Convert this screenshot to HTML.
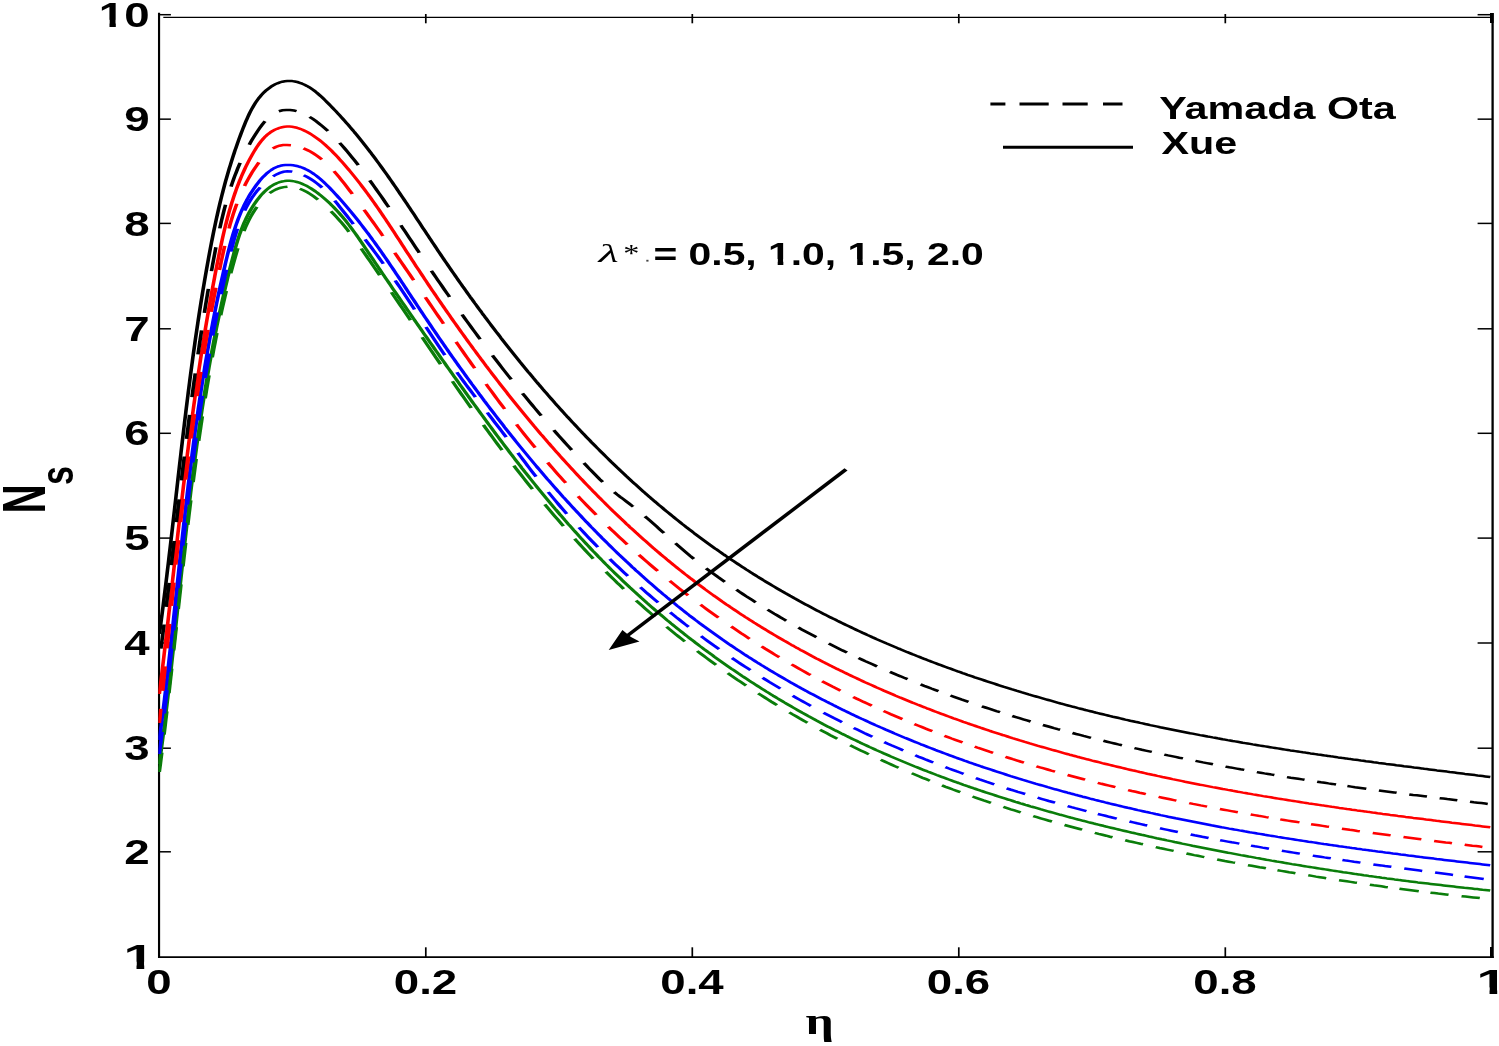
<!DOCTYPE html>
<html><head><meta charset="utf-8"><title>Ns vs eta</title>
<style>html,body{margin:0;padding:0;background:#fff}svg{display:block}</style></head>
<body>
<svg width="1499" height="1046" viewBox="0 0 1499 1046">
<rect width="1499" height="1046" fill="#fff"/>
<defs><clipPath id="pc"><rect x="158.3" y="17" width="1335.4" height="941"/></clipPath></defs>
<line x1="159.05" y1="12.7" x2="159.05" y2="957.9" stroke="#000" stroke-width="2.15"/>
<line x1="158" y1="957.1" x2="1493.8" y2="957.1" stroke="#000" stroke-width="1.7"/>
<line x1="1492.6" y1="13" x2="1492.6" y2="957.9" stroke="#000" stroke-width="2.3"/>
<line x1="163.3" y1="17.4" x2="1493" y2="17.4" stroke="#000" stroke-width="1.3"/>
<line x1="159.3" y1="851.80" x2="170.9" y2="851.80" stroke="#000" stroke-width="1.5"/>
<line x1="1477.6" y1="851.80" x2="1492.5" y2="851.80" stroke="#000" stroke-width="1.5"/>
<line x1="159.3" y1="748.20" x2="170.9" y2="748.20" stroke="#000" stroke-width="1.5"/>
<line x1="1477.6" y1="748.20" x2="1492.5" y2="748.20" stroke="#000" stroke-width="1.5"/>
<line x1="159.3" y1="643.00" x2="170.9" y2="643.00" stroke="#000" stroke-width="1.5"/>
<line x1="1477.6" y1="643.00" x2="1492.5" y2="643.00" stroke="#000" stroke-width="1.5"/>
<line x1="159.3" y1="538.10" x2="170.9" y2="538.10" stroke="#000" stroke-width="1.5"/>
<line x1="1477.6" y1="538.10" x2="1492.5" y2="538.10" stroke="#000" stroke-width="1.5"/>
<line x1="159.3" y1="433.30" x2="170.9" y2="433.30" stroke="#000" stroke-width="1.5"/>
<line x1="1477.6" y1="433.30" x2="1492.5" y2="433.30" stroke="#000" stroke-width="1.5"/>
<line x1="159.3" y1="328.80" x2="170.9" y2="328.80" stroke="#000" stroke-width="1.5"/>
<line x1="1477.6" y1="328.80" x2="1492.5" y2="328.80" stroke="#000" stroke-width="1.5"/>
<line x1="159.3" y1="223.40" x2="170.9" y2="223.40" stroke="#000" stroke-width="1.5"/>
<line x1="1477.6" y1="223.40" x2="1492.5" y2="223.40" stroke="#000" stroke-width="1.5"/>
<line x1="159.3" y1="119.15" x2="170.9" y2="119.15" stroke="#000" stroke-width="1.5"/>
<line x1="1477.6" y1="119.15" x2="1492.5" y2="119.15" stroke="#000" stroke-width="1.5"/>
<line x1="159.3" y1="14.70" x2="170.9" y2="14.70" stroke="#000" stroke-width="1.5"/>
<line x1="1477.6" y1="14.70" x2="1492.5" y2="14.70" stroke="#000" stroke-width="1.5"/>
<line x1="425.8" y1="947.3" x2="425.8" y2="957.1" stroke="#000" stroke-width="1.7"/>
<line x1="425.8" y1="14" x2="425.8" y2="23.3" stroke="#000" stroke-width="1.7"/>
<line x1="692.3" y1="947.3" x2="692.3" y2="957.1" stroke="#000" stroke-width="1.7"/>
<line x1="692.3" y1="14" x2="692.3" y2="23.3" stroke="#000" stroke-width="1.7"/>
<line x1="958.8" y1="947.3" x2="958.8" y2="957.1" stroke="#000" stroke-width="1.7"/>
<line x1="958.8" y1="14" x2="958.8" y2="23.3" stroke="#000" stroke-width="1.7"/>
<line x1="1225.3" y1="947.3" x2="1225.3" y2="957.1" stroke="#000" stroke-width="1.7"/>
<line x1="1225.3" y1="14" x2="1225.3" y2="23.3" stroke="#000" stroke-width="1.7"/>
<rect x="1490" y="13" width="3.6" height="10" fill="#000"/>
<rect x="1490" y="947" width="2.5" height="10" fill="#000"/>
<g clip-path="url(#pc)"><g transform="scale(1.45,1)">
<path fill="none" stroke="#0a7d0a" stroke-width="2.5" d="M109.86 772.0 L110.21 768.1 L110.56 764.3 L110.90 760.4 L111.25 756.5 L111.58 752.6M113.13 734.6 L113.46 730.7 L113.78 726.8 L114.10 722.9 L114.42 719.0 L114.73 715.2 L115.05 711.3M116.50 693.2 L116.80 689.3 L117.11 685.4 L117.41 681.5 L117.71 677.7 L118.01 673.8 L118.31 669.9 L118.41 668.6M119.80 650.5 L120.09 646.6 L120.38 642.7 L120.68 638.8 L120.97 634.9 L121.27 631.0 L121.56 627.2M122.93 609.0 L123.22 605.1 L123.52 601.2 L123.81 597.4 L124.11 593.5 L124.41 589.6 L124.70 585.7 L124.80 584.4M126.20 566.3 L126.50 562.4 L126.81 558.5 L127.11 554.6 L127.42 550.7 L127.73 546.9 L128.04 543.0M129.51 524.9 L129.83 521.0 L130.15 517.1 L130.47 513.2 L130.80 509.3 L131.13 505.5 L131.46 501.6 L131.57 500.3M133.16 482.2 L133.51 478.3 L133.86 474.4 L134.21 470.6 L134.57 466.7 L134.93 462.8 L135.29 459.0M137.04 440.9 L137.42 437.0 L137.81 433.2 L138.20 429.3 L138.60 425.4 L139.00 421.6 L139.40 417.7 L139.54 416.4M141.48 398.4 L141.92 394.5 L142.35 390.7 L142.79 386.8 L143.24 383.0 L143.69 379.1 L144.15 375.3M146.36 357.3 L146.85 353.5 L147.35 349.7 L147.86 345.8 L148.38 342.0 L148.90 338.1 L149.43 334.3 L149.61 333.0M152.21 315.2 L152.79 311.4 L153.38 307.6 L153.98 303.8 L154.59 300.0 L155.21 296.1 L155.84 292.3 L156.06 291.1M159.16 273.4 L159.85 269.6 L160.56 265.8 L161.28 262.1 L162.01 258.3 L162.75 254.5 L163.52 250.8 L164.05 248.3M168.23 231.1 L169.27 227.5 L170.39 223.9 L171.57 220.4 L172.84 216.9 L174.19 213.5 L175.63 210.2 L177.18 206.9M185.90 193.2 L188.15 191.1 L190.55 189.3 L193.07 188.0 L195.66 187.1 L198.27 186.7M206.76 188.8 L209.23 190.3 L211.65 192.1 L214.02 194.1 L216.33 196.4 L218.58 198.8 L219.32 199.6M228.24 211.2 L230.15 214.0 L232.00 216.8 L233.81 219.8 L235.57 222.7 L237.30 225.7 L238.99 228.7 L240.65 231.8M249.10 248.5 L250.64 251.7 L252.18 254.9 L253.71 258.1 L255.24 261.3 L256.77 264.5 L258.30 267.7 L259.82 270.9 L261.34 274.1 L261.85 275.2M269.95 292.3 L271.46 295.5 L272.97 298.7 L274.49 301.9 L276.00 305.1 L277.51 308.3 L279.02 311.6 L280.54 314.8 L282.05 318.0 L283.06 320.2M291.13 337.3 L292.65 340.6 L294.16 343.8 L295.68 347.0 L297.20 350.2 L298.72 353.4 L300.25 356.7 L301.77 359.9 L303.30 363.1 L303.81 364.2M312.00 381.3 L313.55 384.5 L315.09 387.7 L316.64 390.9 L318.19 394.1 L319.75 397.3 L321.31 400.5 L322.87 403.7 L324.44 406.9 L324.96 408.0M333.38 424.9 L334.97 428.1 L336.56 431.2 L338.16 434.4 L339.76 437.5 L341.37 440.7 L342.98 443.8 L344.60 447.0 L346.22 450.1M354.40 465.7 L356.05 468.8 L357.71 471.8 L359.37 474.9 L361.04 478.0 L362.72 481.1 L364.39 484.1 L366.08 487.2 L367.21 489.2M375.74 504.3 L377.47 507.3 L379.20 510.3 L380.94 513.3 L382.69 516.3 L384.44 519.2 L386.20 522.2 L387.97 525.1 L388.56 526.1M396.31 538.8 L398.12 541.6 L399.94 544.5 L401.76 547.4 L403.60 550.2 L405.44 553.1 L407.28 555.9 L409.14 558.7M417.91 571.7 L419.82 574.5 L421.73 577.2 L423.65 579.9 L425.58 582.7 L427.52 585.3 L429.47 588.0 L430.12 588.9M438.68 600.4 L440.67 603.0 L442.68 605.6 L444.69 608.2 L446.71 610.8 L448.74 613.3 L450.78 615.9 L451.46 616.7M459.69 626.8 L461.77 629.3 L463.86 631.7 L465.95 634.2 L468.05 636.6 L470.16 639.0 L472.28 641.5M480.82 651.0 L482.97 653.3 L485.13 655.7 L487.29 658.0 L489.47 660.3 L491.65 662.6 L493.84 664.9M501.91 673.1 L504.13 675.4 L506.36 677.6 L508.59 679.8 L510.83 681.9 L513.07 684.1 L514.57 685.5M522.87 693.3 L525.15 695.4 L527.43 697.5 L529.72 699.6 L532.01 701.7 L534.31 703.7 L535.85 705.1M544.35 712.4 L546.68 714.4 L549.02 716.3 L551.36 718.3 L553.71 720.2 L556.06 722.1 L556.84 722.8M565.52 729.7 L567.90 731.5 L570.28 733.3 L572.67 735.2 L575.06 737.0 L577.46 738.8M586.29 745.2 L588.71 747.0 L591.13 748.7 L593.56 750.4 L595.99 752.1 L598.43 753.8 L599.24 754.3M607.39 759.8 L609.85 761.4 L612.31 763.0 L614.77 764.6 L617.24 766.2 L619.71 767.7M628.80 773.3 L631.29 774.8 L633.78 776.3 L636.27 777.8 L638.77 779.2 L641.27 780.7M649.64 785.4 L652.15 786.8 L654.67 788.1 L657.19 789.5 L659.72 790.8 L662.25 792.2M670.70 796.5 L673.24 797.8 L675.78 799.1 L678.33 800.4 L680.88 801.6 L683.43 802.9M691.96 806.9 L694.53 808.1 L697.09 809.3 L699.66 810.4 L702.23 811.6 L703.95 812.4M712.55 816.1 L715.13 817.2 L717.72 818.3 L720.31 819.4 L722.90 820.5 L725.49 821.5M734.15 825.0 L736.75 826.0 L739.36 827.0 L741.96 828.0 L744.57 829.0 L746.31 829.7M755.02 832.9 L757.64 833.9 L760.25 834.8 L762.88 835.7 L765.50 836.7 L767.25 837.3M776.00 840.3 L778.63 841.2 L781.26 842.0 L783.89 842.9 L786.52 843.8 L788.28 844.3M797.07 847.1 L799.71 848.0 L802.35 848.8 L804.99 849.6 L807.63 850.4 L809.40 850.9M818.21 853.5 L820.86 854.3 L823.51 855.1 L826.16 855.8 L828.81 856.6 L830.57 857.1M839.41 859.5 L842.06 860.2 L844.71 861.0 L847.37 861.7 L850.02 862.4 L851.79 862.8M860.64 865.2 L863.29 865.8 L865.95 866.5 L868.61 867.2 L871.26 867.8 L873.03 868.3M881.00 870.3 L883.65 870.9 L886.31 871.5 L888.97 872.2 L891.62 872.8 L893.39 873.2M902.24 875.3 L904.89 875.9 L907.55 876.6 L910.20 877.2 L912.86 877.8 L914.62 878.2M923.47 880.2 L926.13 880.7 L928.78 881.3 L931.44 881.9 L934.09 882.5 L935.86 882.8M944.72 884.7 L947.38 885.3 L950.04 885.8 L952.70 886.3 L955.36 886.9 L957.14 887.2M965.13 888.8 L967.80 889.3 L970.46 889.8 L973.13 890.3 L975.80 890.8 L978.47 891.3M986.50 892.7 L989.17 893.1 L991.85 893.6 L994.53 894.0 L997.21 894.5 L999.00 894.8M1007.96 896.2 L1010.65 896.6 L1013.35 897.0 L1016.04 897.4 L1018.74 897.8 L1020.54 898.1"/>
<polyline fill="none" stroke="#0a7d0a" stroke-width="2.5" stroke-linejoin="round" points="109.86,764.0 110.11,761.4 110.35,758.9 110.59,756.3 110.83,753.7 111.07,751.2 111.31,748.6 111.54,746.0 111.78,743.4 112.01,740.9 112.24,738.3 112.47,735.7 112.70,733.2 112.92,730.6 113.15,728.0 113.37,725.4 113.59,722.9 113.81,720.3 114.03,717.7 114.25,715.1 114.47,712.5 114.68,710.0 114.90,707.4 115.11,704.8 115.32,702.2 115.53,699.6 115.74,697.1 115.95,694.5 116.16,691.9 116.37,689.3 116.58,686.7 116.78,684.2 116.99,681.6 117.19,679.0 117.39,676.4 117.59,673.8 117.80,671.2 118.00,668.7 118.20,666.1 118.40,663.5 118.59,660.9 118.79,658.3 118.99,655.7 119.19,653.1 119.38,650.6 119.58,648.0 119.77,645.4 119.97,642.8 120.16,640.2 120.36,637.6 120.55,635.0 120.74,632.4 120.94,629.9 121.13,627.3 121.32,624.7 121.51,622.1 121.70,619.5 121.90,616.9 122.09,614.3 122.28,611.7 122.47,609.1 122.66,606.6 122.85,604.0 123.05,601.4 123.24,598.8 123.43,596.2 123.62,593.6 123.81,591.0 124.00,588.4 124.20,585.8 124.39,583.2 124.58,580.7 124.77,578.1 124.97,575.5 125.16,572.9 125.35,570.3 125.55,567.7 125.74,565.1 125.94,562.5 126.13,559.9 126.33,557.3 126.52,554.8 126.72,552.2 126.92,549.6 127.12,547.0 127.32,544.4 127.52,541.8 127.72,539.2 127.92,536.6 128.12,534.1 128.32,531.5 128.52,528.9 128.73,526.3 128.93,523.7 129.14,521.1 129.35,518.5 129.55,515.9 129.76,513.4 129.97,510.8 130.18,508.2 130.39,505.6 130.61,503.0 130.82,500.4 131.04,497.8 131.25,495.3 131.47,492.7 131.69,490.1 131.91,487.5 132.13,484.9 132.35,482.3 132.58,479.8 132.80,477.2 133.03,474.6 133.26,472.0 133.49,469.4 133.72,466.9 133.95,464.3 134.18,461.7 134.42,459.1 134.66,456.5 134.90,454.0 135.14,451.4 135.38,448.8 135.62,446.2 135.87,443.7 136.12,441.1 136.37,438.5 136.62,435.9 136.87,433.4 137.13,430.8 137.38,428.2 137.64,425.7 137.90,423.1 138.16,420.5 138.43,417.9 138.70,415.4 138.97,412.8 139.24,410.2 139.51,407.7 139.79,405.1 140.06,402.5 140.34,400.0 140.63,397.4 140.91,394.9 141.20,392.3 141.49,389.7 141.78,387.2 142.07,384.6 142.37,382.0 142.67,379.5 142.97,376.9 143.27,374.4 143.58,371.8 143.89,369.3 144.20,366.7 144.52,364.1 144.83,361.6 145.15,359.0 145.48,356.5 145.80,353.9 146.13,351.4 146.46,348.8 146.80,346.3 147.13,343.7 147.47,341.2 147.82,338.6 148.16,336.1 148.51,333.5 148.86,331.0 149.22,328.4 149.58,325.9 149.94,323.4 150.30,320.8 150.67,318.3 151.04,315.7 151.42,313.2 151.80,310.6 152.18,308.1 152.56,305.6 152.95,303.0 153.34,300.5 153.74,297.9 154.14,295.4 154.54,292.9 154.95,290.3 155.36,287.8 155.77,285.2 156.19,282.7 156.61,280.2 157.03,277.6 157.46,275.1 157.89,272.6 158.33,270.0 158.77,267.5 159.22,265.0 159.66,262.4 160.12,259.9 160.57,257.4 161.03,254.9 161.50,252.3 161.98,249.8 162.47,247.3 162.98,244.8 163.50,242.3 164.03,239.8 164.59,237.3 165.16,234.8 165.76,232.4 166.38,229.9 167.03,227.5 167.70,225.1 168.40,222.7 169.14,220.3 169.91,218.0 170.71,215.6 171.55,213.3 172.42,211.0 173.34,208.7 174.30,206.5 175.30,204.3 176.35,202.1 177.45,199.9 178.59,197.8 179.79,195.7 181.03,193.7 182.33,191.8 183.68,190.0 185.08,188.3 186.53,186.7 188.04,185.3 189.60,184.1 191.21,183.0 192.85,182.2 194.53,181.5 196.22,181.1 197.93,180.8 199.63,180.8 201.33,181.0 203.03,181.4 204.72,182.0 206.39,182.7 208.06,183.6 209.70,184.7 211.34,185.8 212.95,187.1 214.54,188.5 216.11,190.0 217.65,191.5 219.16,193.2 220.64,194.8 222.09,196.5 223.51,198.2 224.90,200.0 226.26,201.8 227.59,203.6 228.89,205.4 230.17,207.3 231.42,209.2 232.65,211.1 233.86,213.0 235.04,215.0 236.21,216.9 237.35,218.9 238.48,220.9 239.59,223.0 240.69,225.0 241.77,227.1 242.83,229.1 243.89,231.2 244.93,233.3 245.97,235.4 246.99,237.5 248.01,239.6 249.02,241.8 250.02,243.9 251.02,246.0 252.02,248.2 253.02,250.3 254.01,252.5 255.01,254.6 256.00,256.8 257.00,258.9 257.99,261.0 258.99,263.2 259.99,265.3 260.99,267.5 261.99,269.6 262.99,271.7 264.00,273.9 265.00,276.0 266.00,278.2 267.01,280.3 268.02,282.4 269.02,284.6 270.03,286.7 271.04,288.9 272.05,291.0 273.06,293.1 274.07,295.3 275.08,297.4 276.10,299.5 277.11,301.7 278.12,303.8 279.14,305.9 280.16,308.1 281.17,310.2 282.19,312.3 283.21,314.5 284.23,316.6 285.25,318.7 286.27,320.9 287.29,323.0 288.31,325.1 289.34,327.3 290.36,329.4 291.38,331.5 292.41,333.7 293.44,335.8 294.46,337.9 295.49,340.0 296.52,342.2 297.55,344.3 298.58,346.4 299.61,348.6 300.64,350.7 301.67,352.8 302.70,354.9 303.73,357.1 304.77,359.2 305.80,361.3 306.84,363.4 307.87,365.6 308.91,367.7 309.95,369.8 310.98,371.9 312.02,374.0 313.06,376.2 314.10,378.3 315.14,380.4 316.18,382.5 317.22,384.7 318.27,386.8 319.31,388.9 320.36,391.0 321.40,393.1 322.45,395.2 323.50,397.4 324.55,399.5 325.60,401.6 326.65,403.7 327.71,405.8 328.76,407.9 329.82,410.0 330.87,412.1 331.93,414.2 332.99,416.3 334.05,418.4 335.12,420.5 336.18,422.6 337.25,424.7 338.32,426.8 339.38,428.9 340.46,431.0 341.53,433.1 342.60,435.2 343.68,437.3 344.76,439.4 345.84,441.4 346.92,443.5 348.00,445.6 349.09,447.7 350.17,449.7 351.26,451.8 352.35,453.9 353.45,455.9 354.54,458.0 355.64,460.1 356.74,462.1 357.84,464.2 358.95,466.2 360.05,468.3 361.16,470.3 362.27,472.4 363.39,474.4 364.50,476.4 365.62,478.5 366.74,480.5 367.86,482.5 368.99,484.5 370.12,486.6 371.25,488.6 372.38,490.6 373.52,492.6 374.66,494.6 375.80,496.6 376.94,498.6 378.09,500.6 379.24,502.6 380.39,504.6 381.55,506.6 382.71,508.6 383.87,510.5 385.04,512.5 386.20,514.5 387.38,516.4 388.55,518.4 389.73,520.4 390.91,522.3 392.09,524.3 393.28,526.2 394.47,528.1 395.66,530.1 396.86,532.0 398.06,533.9 399.26,535.9 400.47,537.8 401.68,539.7 402.89,541.6 404.11,543.5 405.33,545.4 406.56,547.3 407.79,549.2 409.02,551.1 410.26,552.9 411.49,554.8 412.74,556.7 413.99,558.5 415.24,560.4 416.49,562.2 417.75,564.1 419.01,565.9 420.28,567.8 421.55,569.6 422.83,571.4 424.11,573.2 425.39,575.0 426.68,576.8 427.97,578.6 429.26,580.4 430.56,582.2 431.86,584.0 433.17,585.8 434.48,587.6 435.80,589.3 437.11,591.1 438.44,592.8 439.76,594.6 441.09,596.3 442.42,598.1 443.76,599.8 445.10,601.5 446.44,603.3 447.79,605.0 449.14,606.7 450.50,608.4 451.86,610.1 453.22,611.8 454.59,613.5 455.96,615.1 457.33,616.8 458.70,618.5 460.08,620.2 461.47,621.8 462.86,623.5 464.25,625.1 465.64,626.7 467.04,628.4 468.44,630.0 469.84,631.6 471.25,633.2 472.66,634.9 474.07,636.5 475.49,638.1 476.91,639.7 478.34,641.2 479.76,642.8 481.19,644.4 482.63,646.0 484.06,647.5 485.50,649.1 486.95,650.6 488.39,652.2 489.84,653.7 491.30,655.2 492.75,656.8 494.21,658.3 495.67,659.8 497.14,661.3 498.61,662.8 500.08,664.3 501.55,665.8 503.03,667.3 504.51,668.8 505.99,670.2 507.48,671.7 508.97,673.2 510.46,674.6 511.95,676.1 513.45,677.5 514.95,678.9 516.45,680.4 517.96,681.8 519.47,683.2 520.98,684.6 522.49,686.0 524.01,687.4 525.53,688.8 527.05,690.2 528.58,691.6 530.10,692.9 531.63,694.3 533.17,695.7 534.70,697.0 536.24,698.4 537.78,699.7 539.32,701.0 540.87,702.4 542.42,703.7 543.97,705.0 545.52,706.3 547.08,707.6 548.63,708.9 550.19,710.2 551.76,711.5 553.32,712.8 554.89,714.0 556.46,715.3 558.03,716.6 559.61,717.8 561.18,719.0 562.76,720.3 564.34,721.5 565.93,722.7 567.51,724.0 569.10,725.2 570.69,726.4 572.28,727.6 573.88,728.8 575.48,730.0 577.07,731.1 578.67,732.3 580.28,733.5 581.88,734.6 583.49,735.8 585.10,736.9 586.71,738.1 588.32,739.2 589.94,740.3 591.56,741.4 593.18,742.6 594.80,743.7 596.42,744.8 598.05,745.9 599.67,747.0 601.30,748.0 602.93,749.1 604.56,750.2 606.20,751.2 607.83,752.3 609.47,753.4 611.11,754.4 612.75,755.4 614.40,756.5 616.04,757.5 617.69,758.5 619.34,759.5 620.99,760.5 622.64,761.5 624.30,762.5 625.95,763.5 627.61,764.5 629.27,765.5 630.93,766.5 632.59,767.4 634.25,768.4 635.92,769.4 637.59,770.3 639.26,771.2 640.93,772.2 642.60,773.1 644.27,774.0 645.95,775.0 647.62,775.9 649.30,776.8 650.98,777.7 652.66,778.6 654.34,779.5 656.03,780.4 657.71,781.3 659.40,782.2 661.09,783.0 662.78,783.9 664.47,784.8 666.16,785.6 667.85,786.5 669.55,787.3 671.24,788.2 672.94,789.0 674.64,789.8 676.34,790.7 678.04,791.5 679.74,792.3 681.45,793.1 683.15,793.9 684.86,794.7 686.56,795.5 688.27,796.3 689.98,797.1 691.69,797.9 693.41,798.7 695.12,799.5 696.83,800.2 698.55,801.0 700.26,801.8 701.98,802.5 703.70,803.3 705.42,804.0 707.14,804.8 708.86,805.5 710.59,806.3 712.31,807.0 714.03,807.7 715.76,808.4 717.49,809.2 719.21,809.9 720.94,810.6 722.67,811.3 724.40,812.0 726.13,812.7 727.86,813.4 729.60,814.1 731.33,814.8 733.06,815.4 734.80,816.1 736.54,816.8 738.27,817.5 740.01,818.1 741.75,818.8 743.49,819.5 745.23,820.1 746.97,820.8 748.71,821.4 750.45,822.1 752.19,822.7 753.94,823.3 755.68,824.0 757.43,824.6 759.17,825.2 760.92,825.8 762.66,826.5 764.41,827.1 766.16,827.7 767.91,828.3 769.65,828.9 771.40,829.5 773.15,830.1 774.90,830.7 776.65,831.3 778.40,831.9 780.16,832.5 781.91,833.0 783.66,833.6 785.41,834.2 787.17,834.8 788.92,835.3 790.67,835.9 792.43,836.5 794.18,837.0 795.94,837.6 797.69,838.2 799.45,838.7 801.20,839.3 802.96,839.8 804.72,840.4 806.47,840.9 808.23,841.4 809.99,842.0 811.74,842.5 813.50,843.0 815.26,843.6 817.02,844.1 818.77,844.6 820.53,845.1 822.29,845.7 824.05,846.2 825.81,846.7 827.57,847.2 829.32,847.7 831.08,848.2 832.84,848.7 834.60,849.2 836.36,849.7 838.12,850.2 839.88,850.7 841.64,851.2 843.40,851.7 845.16,852.2 846.91,852.7 848.67,853.1 850.43,853.6 852.19,854.1 853.95,854.6 855.71,855.1 857.47,855.5 859.23,856.0 860.99,856.5 862.76,856.9 864.52,857.4 866.28,857.9 868.04,858.3 869.80,858.8 871.56,859.2 873.32,859.7 875.08,860.1 876.85,860.6 878.61,861.0 880.37,861.5 882.13,861.9 883.90,862.3 885.66,862.8 887.42,863.2 889.19,863.6 890.95,864.1 892.71,864.5 894.48,864.9 896.24,865.3 898.01,865.8 899.77,866.2 901.54,866.6 903.30,867.0 905.07,867.4 906.83,867.8 908.60,868.2 910.36,868.6 912.13,869.0 913.90,869.4 915.66,869.8 917.43,870.2 919.20,870.6 920.97,871.0 922.74,871.4 924.50,871.8 926.27,872.2 928.04,872.5 929.81,872.9 931.58,873.3 933.35,873.7 935.12,874.1 936.89,874.4 938.66,874.8 940.44,875.2 942.21,875.5 943.98,875.9 945.75,876.2 947.53,876.6 949.30,877.0 951.07,877.3 952.85,877.7 954.62,878.0 956.40,878.4 958.17,878.7 959.95,879.0 961.72,879.4 963.50,879.7 965.28,880.1 967.05,880.4 968.83,880.7 970.61,881.1 972.39,881.4 974.17,881.7 975.95,882.0 977.73,882.4 979.51,882.7 981.29,883.0 983.07,883.3 984.85,883.6 986.63,883.9 988.41,884.2 990.20,884.5 991.98,884.8 993.76,885.1 995.55,885.4 997.33,885.7 999.12,886.0 1000.90,886.3 1002.69,886.6 1004.48,886.9 1006.26,887.2 1008.05,887.5 1009.84,887.8 1011.63,888.0 1013.42,888.3 1015.21,888.6 1017.00,888.9 1018.79,889.1 1020.58,889.4 1022.37,889.7 1024.17,889.9 1025.96,890.2 1027.75,890.5"/>
<path fill="none" stroke="#0000ff" stroke-width="2.5" d="M109.87 754.0 L110.21 750.1 L110.56 746.2 L110.90 742.2 L111.24 738.3 L111.58 734.4 L111.80 731.8M113.33 713.5 L113.64 709.6 L113.96 705.7 L114.28 701.8 L114.59 697.9 L114.90 694.0 L115.20 690.1M116.62 671.9 L116.91 668.0 L117.21 664.1 L117.51 660.3 L117.80 656.4 L118.09 652.5 L118.38 648.6M119.73 630.5 L120.02 626.7 L120.31 622.8 L120.59 618.9 L120.88 615.1 L121.16 611.2 L121.45 607.4 L121.54 606.1M122.87 588.1 L123.16 584.2 L123.45 580.4 L123.73 576.5 L124.02 572.6 L124.31 568.8 L124.60 564.9 L124.70 563.7M126.06 545.7 L126.36 541.9 L126.66 538.0 L126.96 534.2 L127.26 530.3 L127.56 526.5 L127.86 522.7M129.31 504.7 L129.63 500.9 L129.95 497.1 L130.27 493.2 L130.59 489.4 L130.92 485.5 L131.25 481.7 L131.36 480.4M132.94 462.5 L133.29 458.7 L133.64 454.8 L134.00 451.0 L134.35 447.2 L134.72 443.3 L135.08 439.5 L135.21 438.2M136.97 420.3 L137.36 416.4 L137.76 412.6 L138.16 408.8 L138.56 404.9 L138.97 401.1 L139.38 397.2 L139.52 395.9M141.52 378.0 L141.96 374.1 L142.41 370.3 L142.87 366.4 L143.33 362.6 L143.79 358.7 L144.26 354.9 L144.42 353.6M146.71 335.6 L147.21 331.7 L147.73 327.9 L148.25 324.0 L148.77 320.1 L149.31 316.3 L149.85 312.4M152.46 294.3 L153.04 290.5 L153.63 286.6 L154.22 282.7 L154.82 278.8 L155.43 274.9 L156.05 271.1 L156.26 269.8M159.26 251.6 L159.94 247.7 L160.64 243.9 L161.37 240.0 L162.13 236.2 L162.93 232.4 L163.77 228.7M168.76 210.6 L169.95 207.2 L171.22 203.8 L172.57 200.5 L174.00 197.3 L175.52 194.2 L177.14 191.2 L178.86 188.3 L179.45 187.4M188.31 176.4 L190.64 174.4 L193.05 172.9 L195.54 171.8 L198.11 171.3 L200.74 171.4 L201.62 171.6M209.46 175.3 L211.92 177.1 L214.27 179.0 L216.53 181.2 L218.69 183.5 L220.78 185.9 L222.13 187.6M230.82 200.7 L232.56 203.7 L234.27 206.8 L235.95 209.8 L237.62 212.9 L239.29 215.9 L240.94 219.0 L242.59 222.0 L243.68 224.1M251.79 239.3 L253.39 242.3 L254.98 245.4 L256.56 248.4 L258.14 251.5 L259.71 254.5 L261.27 257.6 L262.82 260.7 L264.37 263.8M272.52 280.5 L274.02 283.6 L275.52 286.8 L277.02 290.0 L278.51 293.2 L280.00 296.5 L281.48 299.7 L282.96 303.0 L284.44 306.2 L285.91 309.5M293.79 326.9 L295.27 330.2 L296.76 333.5 L298.25 336.7 L299.74 340.0 L301.24 343.3 L302.74 346.5 L304.25 349.8 L305.77 353.0 L306.79 355.1M315.06 372.2 L316.63 375.3 L318.22 378.5 L319.82 381.6 L321.42 384.7 L323.03 387.8 L324.64 390.9 L326.26 394.0 L327.89 397.1M336.05 412.5 L337.69 415.6 L339.32 418.7 L340.96 421.8 L342.59 424.8 L344.23 427.9 L345.86 431.0 L347.48 434.1 L349.10 437.2M357.18 452.9 L358.80 456.0 L360.42 459.1 L362.04 462.2 L363.66 465.4 L365.29 468.5 L366.93 471.6 L368.58 474.7 L369.68 476.7M378.09 492.0 L379.80 495.0 L381.52 498.0 L383.25 501.0 L384.99 504.0 L386.75 507.0 L388.51 509.9 L390.28 512.8 L390.87 513.8M399.28 527.3 L401.11 530.2 L402.95 533.0 L404.80 535.9 L406.66 538.7 L408.52 541.5 L410.40 544.3 L412.29 547.1M420.56 559.0 L422.49 561.7 L424.43 564.4 L426.38 567.1 L428.34 569.8 L430.31 572.4 L432.28 575.1 L432.94 576.0M441.61 587.3 L443.63 589.8 L445.66 592.4 L447.70 594.9 L449.75 597.5 L451.80 600.0 L453.86 602.5M462.19 612.4 L464.29 614.8 L466.39 617.3 L468.51 619.7 L470.63 622.1 L472.76 624.5 L474.90 626.8M483.51 636.2 L485.68 638.5 L487.86 640.8 L490.05 643.1 L492.24 645.4 L494.44 647.6 L495.91 649.1M504.78 658.0 L507.02 660.1 L509.26 662.3 L511.50 664.5 L513.76 666.6 L516.02 668.7 L517.53 670.1M525.87 677.8 L528.16 679.8 L530.46 681.9 L532.76 683.9 L535.07 685.9 L537.38 687.9 L538.15 688.6M546.68 695.8 L549.02 697.7 L551.37 699.6 L553.72 701.5 L556.07 703.4 L558.43 705.3 L559.22 705.9M567.91 712.7 L570.30 714.5 L572.68 716.3 L575.07 718.1 L577.47 719.8 L579.87 721.6 L580.67 722.2M588.71 727.9 L591.13 729.6 L593.55 731.3 L595.98 733.0 L598.41 734.6 L600.85 736.2 L601.66 736.8M609.81 742.1 L612.26 743.7 L614.72 745.3 L617.18 746.8 L619.64 748.3 L622.11 749.9 L622.93 750.4M631.18 755.3 L633.67 756.8 L636.15 758.2 L638.64 759.7 L641.14 761.1 L643.63 762.5M651.98 767.1 L654.49 768.5 L657.00 769.8 L659.52 771.2 L662.04 772.5 L664.56 773.8M672.99 778.1 L675.52 779.4 L678.06 780.6 L680.60 781.9 L683.15 783.1 L685.69 784.3M694.20 788.3 L696.76 789.5 L699.32 790.6 L701.88 791.8 L704.45 792.9 L707.02 794.0M715.59 797.7 L718.17 798.8 L720.75 799.9 L723.34 801.0 L725.92 802.0 L727.65 802.7M736.28 806.1 L738.88 807.2 L741.48 808.2 L744.08 809.1 L746.68 810.1 L749.29 811.1M757.11 814.0 L759.72 814.9 L762.34 815.8 L764.95 816.8 L767.57 817.7 L770.19 818.6M778.93 821.5 L781.56 822.4 L784.19 823.3 L786.82 824.1 L789.45 825.0 L791.20 825.5M799.99 828.3 L802.62 829.1 L805.26 829.9 L807.90 830.7 L810.55 831.5 L812.31 832.0M821.13 834.5 L823.77 835.3 L826.42 836.0 L829.07 836.8 L831.72 837.5 L833.49 838.0M841.45 840.2 L844.11 840.9 L846.76 841.6 L849.42 842.3 L852.08 842.9 L854.74 843.6M862.72 845.6 L865.38 846.3 L868.04 846.9 L870.70 847.6 L873.37 848.2 L875.14 848.7M884.02 850.8 L886.69 851.4 L889.35 852.0 L892.02 852.6 L894.69 853.2 L896.46 853.6M905.35 855.6 L908.02 856.2 L910.69 856.8 L913.35 857.4 L916.02 857.9 L917.80 858.3M925.80 860.0 L928.47 860.6 L931.13 861.1 L933.80 861.7 L936.47 862.2 L938.25 862.6M947.13 864.4 L949.80 864.9 L952.46 865.4 L955.13 866.0 L957.79 866.5 L959.57 866.8M968.44 868.6 L971.10 869.1 L973.76 869.6 L976.42 870.1 L979.08 870.6 L980.85 870.9M989.71 872.6 L992.37 873.1 L995.02 873.6 L997.67 874.1 L1000.33 874.6 L1002.09 874.9M1010.04 876.4 L1012.69 876.9 L1015.34 877.4 L1017.98 877.9 L1020.63 878.4 L1023.27 878.9"/>
<polyline fill="none" stroke="#0000ff" stroke-width="2.5" stroke-linejoin="round" points="109.87,740.0 110.10,737.4 110.34,734.9 110.57,732.3 110.80,729.7 111.03,727.2 111.26,724.6 111.49,722.1 111.71,719.5 111.94,716.9 112.16,714.4 112.38,711.8 112.60,709.2 112.82,706.7 113.04,704.1 113.25,701.5 113.47,699.0 113.68,696.4 113.89,693.8 114.11,691.3 114.32,688.7 114.52,686.1 114.73,683.5 114.94,681.0 115.15,678.4 115.35,675.8 115.56,673.3 115.76,670.7 115.96,668.1 116.16,665.6 116.36,663.0 116.56,660.4 116.76,657.9 116.96,655.3 117.16,652.7 117.36,650.1 117.55,647.6 117.75,645.0 117.94,642.4 118.14,639.9 118.33,637.3 118.53,634.7 118.72,632.2 118.91,629.6 119.11,627.0 119.30,624.4 119.49,621.9 119.68,619.3 119.87,616.7 120.06,614.2 120.25,611.6 120.44,609.0 120.63,606.4 120.82,603.9 121.01,601.3 121.20,598.7 121.39,596.2 121.58,593.6 121.77,591.0 121.95,588.5 122.14,585.9 122.33,583.3 122.52,580.7 122.71,578.2 122.90,575.6 123.09,573.0 123.28,570.5 123.47,567.9 123.66,565.3 123.85,562.7 124.04,560.2 124.23,557.6 124.42,555.0 124.61,552.5 124.80,549.9 125.00,547.3 125.19,544.8 125.38,542.2 125.58,539.6 125.77,537.1 125.96,534.5 126.16,531.9 126.36,529.3 126.55,526.8 126.75,524.2 126.95,521.6 127.15,519.1 127.35,516.5 127.55,513.9 127.75,511.4 127.95,508.8 128.15,506.2 128.36,503.7 128.56,501.1 128.77,498.5 128.97,496.0 129.18,493.4 129.39,490.8 129.60,488.3 129.81,485.7 130.02,483.1 130.23,480.6 130.45,478.0 130.66,475.4 130.88,472.9 131.09,470.3 131.31,467.8 131.53,465.2 131.76,462.6 131.98,460.1 132.20,457.5 132.43,454.9 132.66,452.4 132.88,449.8 133.11,447.3 133.35,444.7 133.58,442.1 133.81,439.6 134.05,437.0 134.29,434.5 134.53,431.9 134.77,429.3 135.01,426.8 135.26,424.2 135.50,421.7 135.75,419.1 136.00,416.5 136.25,414.0 136.51,411.4 136.76,408.9 137.02,406.3 137.28,403.8 137.54,401.2 137.81,398.7 138.07,396.1 138.34,393.5 138.61,391.0 138.88,388.4 139.16,385.9 139.43,383.3 139.71,380.8 139.99,378.2 140.28,375.7 140.56,373.1 140.85,370.6 141.14,368.0 141.43,365.5 141.73,362.9 142.02,360.4 142.32,357.8 142.63,355.3 142.93,352.7 143.24,350.2 143.55,347.6 143.86,345.1 144.18,342.6 144.49,340.0 144.81,337.5 145.14,334.9 145.46,332.4 145.79,329.8 146.12,327.3 146.46,324.8 146.79,322.2 147.13,319.7 147.48,317.1 147.82,314.6 148.17,312.1 148.52,309.5 148.88,307.0 149.24,304.4 149.60,301.9 149.96,299.4 150.33,296.8 150.70,294.3 151.07,291.8 151.45,289.2 151.83,286.7 152.21,284.2 152.60,281.6 152.99,279.1 153.38,276.6 153.78,274.1 154.18,271.5 154.58,269.0 154.99,266.5 155.40,263.9 155.81,261.4 156.23,258.9 156.65,256.4 157.08,253.8 157.51,251.3 157.95,248.8 158.40,246.3 158.86,243.8 159.33,241.3 159.81,238.8 160.30,236.3 160.81,233.8 161.34,231.3 161.88,228.9 162.44,226.4 163.02,224.0 163.62,221.6 164.24,219.1 164.88,216.7 165.55,214.3 166.24,212.0 166.95,209.6 167.70,207.3 168.47,204.9 169.27,202.6 170.10,200.3 170.96,198.1 171.86,195.8 172.79,193.6 173.76,191.4 174.76,189.2 175.80,187.1 176.87,184.9 177.99,182.8 179.15,180.7 180.35,178.7 181.59,176.7 182.88,174.9 184.22,173.1 185.61,171.5 187.05,170.0 188.54,168.6 190.08,167.5 191.68,166.5 193.33,165.8 195.04,165.3 196.79,165.0 198.56,164.9 200.34,165.0 202.11,165.3 203.86,165.7 205.56,166.3 207.23,167.0 208.86,167.9 210.45,168.9 212.01,170.0 213.53,171.2 215.02,172.6 216.48,174.0 217.92,175.5 219.32,177.1 220.70,178.7 222.06,180.5 223.40,182.2 224.71,184.1 226.01,185.9 227.30,187.8 228.56,189.7 229.82,191.6 231.06,193.6 232.29,195.5 233.52,197.5 234.73,199.4 235.93,201.4 237.12,203.4 238.30,205.4 239.47,207.3 240.63,209.3 241.79,211.3 242.93,213.3 244.06,215.4 245.19,217.4 246.31,219.4 247.42,221.4 248.52,223.5 249.61,225.5 250.70,227.6 251.78,229.6 252.86,231.7 253.92,233.7 254.98,235.8 256.04,237.9 257.08,240.0 258.13,242.0 259.16,244.1 260.19,246.2 261.22,248.3 262.24,250.4 263.26,252.5 264.27,254.6 265.28,256.7 266.28,258.8 267.28,260.9 268.28,263.1 269.28,265.2 270.27,267.3 271.26,269.4 272.24,271.5 273.22,273.7 274.21,275.8 275.19,277.9 276.16,280.1 277.14,282.2 278.12,284.3 279.09,286.5 280.07,288.6 281.04,290.7 282.01,292.9 282.99,295.0 283.96,297.2 284.93,299.3 285.91,301.4 286.88,303.6 287.86,305.7 288.84,307.8 289.82,310.0 290.80,312.1 291.79,314.2 292.77,316.4 293.76,318.5 294.75,320.6 295.74,322.8 296.73,324.9 297.73,327.0 298.73,329.2 299.73,331.3 300.73,333.4 301.73,335.5 302.74,337.7 303.75,339.8 304.75,341.9 305.77,344.0 306.78,346.1 307.80,348.2 308.82,350.4 309.84,352.5 310.86,354.6 311.88,356.7 312.91,358.8 313.94,360.9 314.97,363.0 316.00,365.1 317.04,367.2 318.08,369.3 319.12,371.4 320.16,373.5 321.20,375.6 322.25,377.7 323.30,379.8 324.35,381.9 325.40,384.0 326.46,386.0 327.52,388.1 328.58,390.2 329.64,392.3 330.70,394.4 331.77,396.4 332.84,398.5 333.91,400.6 334.99,402.6 336.06,404.7 337.14,406.8 338.22,408.8 339.31,410.9 340.39,412.9 341.48,415.0 342.57,417.0 343.67,419.1 344.76,421.1 345.86,423.2 346.96,425.2 348.06,427.3 349.17,429.3 350.28,431.3 351.39,433.4 352.50,435.4 353.62,437.4 354.74,439.4 355.86,441.5 356.98,443.5 358.11,445.5 359.24,447.5 360.37,449.5 361.50,451.5 362.64,453.5 363.78,455.5 364.92,457.5 366.06,459.5 367.21,461.5 368.36,463.5 369.51,465.5 370.67,467.5 371.82,469.4 372.98,471.4 374.15,473.4 375.31,475.3 376.48,477.3 377.65,479.3 378.83,481.2 380.00,483.2 381.18,485.1 382.37,487.1 383.55,489.0 384.74,491.0 385.93,492.9 387.12,494.8 388.32,496.8 389.52,498.7 390.72,500.6 391.93,502.5 393.13,504.4 394.34,506.3 395.56,508.2 396.77,510.1 397.99,512.0 399.22,513.9 400.44,515.8 401.67,517.7 402.90,519.6 404.13,521.5 405.37,523.3 406.61,525.2 407.85,527.1 409.10,528.9 410.35,530.8 411.60,532.6 412.85,534.5 414.11,536.3 415.37,538.2 416.64,540.0 417.90,541.8 419.17,543.6 420.45,545.5 421.72,547.3 423.00,549.1 424.28,550.9 425.57,552.7 426.86,554.5 428.15,556.2 429.44,558.0 430.74,559.8 432.04,561.6 433.35,563.3 434.65,565.1 435.96,566.9 437.28,568.6 438.59,570.4 439.91,572.1 441.24,573.8 442.56,575.6 443.89,577.3 445.22,579.0 446.56,580.7 447.90,582.4 449.24,584.1 450.59,585.8 451.94,587.5 453.29,589.2 454.64,590.9 456.00,592.5 457.36,594.2 458.73,595.8 460.10,597.5 461.47,599.1 462.84,600.8 464.22,602.4 465.61,604.0 466.99,605.7 468.38,607.3 469.77,608.9 471.17,610.5 472.57,612.1 473.97,613.7 475.37,615.3 476.78,616.8 478.20,618.4 479.61,620.0 481.03,621.5 482.46,623.1 483.88,624.6 485.31,626.2 486.74,627.7 488.18,629.2 489.62,630.7 491.07,632.2 492.51,633.7 493.96,635.2 495.42,636.7 496.87,638.2 498.33,639.7 499.80,641.1 501.26,642.6 502.73,644.1 504.20,645.5 505.68,646.9 507.16,648.4 508.64,649.8 510.13,651.2 511.61,652.6 513.11,654.1 514.60,655.5 516.10,656.9 517.60,658.2 519.10,659.6 520.61,661.0 522.11,662.4 523.63,663.7 525.14,665.1 526.66,666.4 528.18,667.8 529.70,669.1 531.22,670.5 532.75,671.8 534.28,673.1 535.82,674.4 537.35,675.7 538.89,677.0 540.43,678.3 541.98,679.6 543.52,680.9 545.07,682.2 546.62,683.4 548.18,684.7 549.73,686.0 551.29,687.2 552.85,688.5 554.41,689.7 555.98,690.9 557.55,692.2 559.12,693.4 560.69,694.6 562.26,695.8 563.84,697.0 565.42,698.2 567.00,699.4 568.59,700.6 570.17,701.8 571.76,702.9 573.35,704.1 574.94,705.3 576.53,706.4 578.13,707.6 579.73,708.7 581.33,709.9 582.93,711.0 584.53,712.1 586.14,713.2 587.75,714.4 589.35,715.5 590.97,716.6 592.58,717.7 594.19,718.8 595.81,719.8 597.43,720.9 599.05,722.0 600.67,723.1 602.29,724.1 603.92,725.2 605.54,726.2 607.17,727.3 608.80,728.3 610.43,729.4 612.06,730.4 613.70,731.4 615.33,732.4 616.97,733.5 618.61,734.5 620.25,735.5 621.89,736.5 623.53,737.5 625.17,738.4 626.82,739.4 628.47,740.4 630.11,741.4 631.76,742.3 633.41,743.3 635.06,744.3 636.72,745.2 638.37,746.1 640.03,747.1 641.68,748.0 643.34,748.9 645.00,749.9 646.66,750.8 648.32,751.7 649.99,752.6 651.65,753.5 653.32,754.4 654.98,755.3 656.65,756.2 658.32,757.1 659.99,758.0 661.66,758.8 663.34,759.7 665.01,760.6 666.69,761.4 668.36,762.3 670.04,763.1 671.72,764.0 673.40,764.8 675.08,765.6 676.76,766.5 678.45,767.3 680.13,768.1 681.82,768.9 683.50,769.7 685.19,770.5 686.88,771.3 688.57,772.1 690.26,772.9 691.95,773.7 693.64,774.5 695.34,775.3 697.03,776.1 698.73,776.8 700.43,777.6 702.13,778.4 703.82,779.1 705.52,779.9 707.23,780.6 708.93,781.4 710.63,782.1 712.34,782.8 714.04,783.6 715.75,784.3 717.45,785.0 719.16,785.7 720.87,786.4 722.58,787.2 724.29,787.9 726.00,788.6 727.72,789.3 729.43,789.9 731.14,790.6 732.86,791.3 734.57,792.0 736.29,792.7 738.01,793.3 739.73,794.0 741.45,794.7 743.17,795.3 744.89,796.0 746.61,796.7 748.33,797.3 750.06,797.9 751.78,798.6 753.51,799.2 755.23,799.9 756.96,800.5 758.69,801.1 760.42,801.7 762.15,802.4 763.88,803.0 765.61,803.6 767.34,804.2 769.07,804.8 770.80,805.4 772.54,806.0 774.27,806.6 776.01,807.2 777.74,807.8 779.48,808.3 781.22,808.9 782.95,809.5 784.69,810.1 786.43,810.6 788.17,811.2 789.91,811.8 791.65,812.3 793.40,812.9 795.14,813.4 796.88,814.0 798.62,814.5 800.37,815.1 802.11,815.6 803.86,816.1 805.60,816.7 807.35,817.2 809.10,817.7 810.85,818.3 812.59,818.8 814.34,819.3 816.09,819.8 817.84,820.3 819.59,820.8 821.34,821.3 823.09,821.8 824.85,822.3 826.60,822.8 828.35,823.3 830.10,823.8 831.86,824.3 833.61,824.8 835.37,825.3 837.12,825.7 838.88,826.2 840.63,826.7 842.39,827.2 844.15,827.6 845.90,828.1 847.66,828.6 849.42,829.0 851.18,829.5 852.94,829.9 854.70,830.4 856.46,830.8 858.22,831.3 859.98,831.7 861.74,832.2 863.50,832.6 865.26,833.0 867.02,833.5 868.78,833.9 870.54,834.3 872.31,834.8 874.07,835.2 875.83,835.6 877.60,836.0 879.36,836.4 881.12,836.9 882.89,837.3 884.65,837.7 886.42,838.1 888.18,838.5 889.95,838.9 891.71,839.3 893.48,839.7 895.24,840.1 897.01,840.5 898.77,840.9 900.54,841.3 902.31,841.7 904.07,842.0 905.84,842.4 907.61,842.8 909.38,843.2 911.14,843.6 912.91,844.0 914.68,844.3 916.44,844.7 918.21,845.1 919.98,845.4 921.75,845.8 923.52,846.2 925.28,846.5 927.05,846.9 928.82,847.3 930.59,847.6 932.36,848.0 934.13,848.3 935.89,848.7 937.66,849.0 939.43,849.4 941.20,849.7 942.97,850.1 944.74,850.4 946.51,850.8 948.27,851.1 950.04,851.5 951.81,851.8 953.58,852.1 955.35,852.5 957.12,852.8 958.88,853.1 960.65,853.5 962.42,853.8 964.19,854.1 965.96,854.5 967.72,854.8 969.49,855.1 971.26,855.5 973.03,855.8 974.79,856.1 976.56,856.4 978.33,856.7 980.10,857.1 981.86,857.4 983.63,857.7 985.40,858.0 987.16,858.3 988.93,858.6 990.69,859.0 992.46,859.3 994.22,859.6 995.99,859.9 997.76,860.2 999.52,860.5 1001.28,860.8 1003.05,861.1 1004.81,861.4 1006.58,861.7 1008.34,862.0 1010.10,862.3 1011.87,862.6 1013.63,862.9 1015.39,863.2 1017.15,863.5 1018.92,863.8 1020.68,864.1 1022.44,864.4 1024.20,864.7 1025.96,865.0 1027.72,865.3"/>
<path fill="none" stroke="#ff0000" stroke-width="2.5" d="M109.88 723.0 L110.17 719.1 L110.45 715.3 L110.73 711.4 L110.91 708.9M112.21 690.8 L112.48 687.0 L112.76 683.1 L113.03 679.2 L113.31 675.4 L113.58 671.5 L113.86 667.7 L113.95 666.4M115.23 648.3 L115.51 644.5 L115.78 640.6 L116.06 636.7 L116.33 632.9 L116.61 629.0 L116.88 625.1 L116.97 623.8M118.27 605.8 L118.55 601.9 L118.83 598.1 L119.11 594.2 L119.40 590.3 L119.68 586.5 L119.96 582.6M121.30 564.6 L121.60 560.7 L121.89 556.9 L122.18 553.0 L122.48 549.1 L122.77 545.3 L123.07 541.4 L123.17 540.1M124.59 522.1 L124.90 518.2 L125.21 514.4 L125.52 510.5 L125.83 506.6 L126.15 502.8 L126.47 498.9M128.10 479.6 L128.43 475.8 L128.77 471.9 L129.10 468.1 L129.44 464.2 L129.79 460.4 L130.13 456.5M131.79 438.5 L132.15 434.7 L132.51 430.8 L132.88 427.0 L133.25 423.1 L133.63 419.3 L134.01 415.4 L134.13 414.2M135.95 396.2 L136.35 392.4 L136.75 388.5 L137.16 384.7 L137.57 380.9 L137.98 377.0 L138.40 373.2 L138.54 371.9M140.55 354.0 L141.00 350.2 L141.44 346.4 L141.90 342.5 L142.35 338.7 L142.81 334.9 L143.28 331.0 L143.43 329.8M145.67 311.9 L146.16 308.1 L146.66 304.3 L147.16 300.5 L147.67 296.7 L148.18 292.9 L148.69 289.0 L148.87 287.8M151.36 270.0 L151.91 266.2 L152.46 262.4 L153.02 258.6 L153.59 254.8 L154.16 251.0 L154.75 247.2 L154.95 245.9M157.95 228.4 L158.66 224.6 L159.40 220.9 L160.17 217.2 L160.98 213.5 L161.83 209.9 L162.72 206.2 L163.33 203.8M168.63 186.0 L169.85 182.5 L171.14 179.1 L172.48 175.7 L173.89 172.3 L175.37 169.0 L176.92 165.7 L178.55 162.4M188.07 148.6 L190.34 146.9 L192.75 145.7 L195.30 145.0 L197.96 144.9 L200.66 145.2M209.28 148.4 L211.69 149.9 L214.01 151.6 L216.27 153.5 L218.45 155.6 L220.57 157.9 L221.94 159.5M230.32 171.2 L232.13 174.2 L233.91 177.2 L235.65 180.3 L237.37 183.4 L239.07 186.6 L240.75 189.8 L242.41 192.9 L242.96 194.0M251.08 209.8 L252.67 212.9 L254.26 216.1 L255.83 219.2 L257.40 222.4 L258.95 225.5 L260.51 228.7 L262.05 231.8 L263.59 235.0 L264.10 236.0M272.22 252.8 L273.73 255.9 L275.24 259.1 L276.75 262.3 L278.26 265.4 L279.77 268.6 L281.27 271.8 L282.78 274.9 L284.29 278.1 L285.29 280.2M293.32 297.2 L294.83 300.4 L296.33 303.6 L297.84 306.8 L299.35 310.0 L300.86 313.2 L302.38 316.4 L303.89 319.5 L305.40 322.7 L305.91 323.8M314.54 341.9 L316.07 345.0 L317.60 348.2 L319.14 351.4 L320.68 354.6 L322.22 357.7 L323.77 360.9 L325.32 364.1 L326.88 367.2 L327.39 368.3M335.23 384.0 L336.81 387.2 L338.40 390.3 L339.99 393.4 L341.59 396.6 L343.19 399.7 L344.80 402.8 L346.41 405.9 L348.03 409.0M356.21 424.4 L357.86 427.5 L359.52 430.5 L361.19 433.6 L362.87 436.6 L364.55 439.6 L366.24 442.6 L367.94 445.6 L369.08 447.6M377.71 462.5 L379.46 465.5 L381.23 468.4 L382.99 471.3 L384.77 474.3 L386.56 477.2 L388.35 480.1 L390.16 482.9M398.69 496.3 L400.54 499.1 L402.41 501.9 L404.28 504.7 L406.15 507.5 L408.04 510.3 L409.93 513.0 L411.20 514.9M419.52 526.7 L421.46 529.4 L423.41 532.1 L425.37 534.8 L427.34 537.4 L429.31 540.1 L431.29 542.7 L432.61 544.5M440.63 554.9 L442.65 557.4 L444.68 560.0 L446.72 562.6 L448.77 565.1 L450.82 567.6 L452.88 570.1 L453.57 571.0M461.88 580.9 L463.98 583.3 L466.08 585.7 L468.19 588.2 L470.30 590.6 L472.43 593.0 L474.56 595.3M483.14 604.7 L485.30 607.0 L487.47 609.3 L489.64 611.6 L491.82 613.9 L494.01 616.2 L495.47 617.7M504.29 626.5 L506.51 628.7 L508.74 630.9 L510.97 633.1 L513.21 635.2 L515.45 637.3 L516.95 638.8M525.24 646.4 L527.51 648.5 L529.79 650.5 L532.07 652.5 L534.36 654.6 L536.66 656.6 L537.42 657.2M545.89 664.4 L548.21 666.3 L550.53 668.2 L552.86 670.1 L555.19 672.0 L557.53 673.9 L559.09 675.1M566.94 681.2 L569.30 683.0 L571.67 684.8 L574.04 686.6 L576.41 688.3 L578.79 690.1 L579.59 690.7M588.36 696.9 L590.76 698.6 L593.17 700.2 L595.58 701.9 L598.00 703.5 L600.42 705.1 L601.22 705.7M609.32 711.0 L611.76 712.5 L614.20 714.1 L616.65 715.6 L619.10 717.1 L621.55 718.6 L622.37 719.1M630.58 724.1 L633.05 725.5 L635.53 726.9 L638.01 728.4 L640.49 729.8 L642.98 731.2M651.29 735.8 L653.79 737.1 L656.29 738.5 L658.80 739.8 L661.31 741.1 L663.82 742.4M672.22 746.7 L674.75 748.0 L677.28 749.2 L679.82 750.4 L682.35 751.7 L684.89 752.9M693.38 756.8 L695.93 758.0 L698.48 759.2 L701.04 760.3 L703.60 761.5 L706.16 762.6M714.73 766.3 L717.30 767.4 L719.88 768.4 L722.45 769.5 L725.03 770.6 L727.62 771.6M736.25 775.0 L738.84 776.0 L741.43 777.0 L744.03 778.0 L746.63 779.0 L748.36 779.7M757.05 782.8 L759.66 783.8 L762.27 784.7 L764.88 785.6 L767.50 786.5 L769.24 787.1M777.97 790.1 L780.60 791.0 L783.22 791.8 L785.85 792.7 L788.48 793.5 L790.23 794.1M799.00 796.9 L801.64 797.7 L804.27 798.5 L806.91 799.3 L809.55 800.1 L811.31 800.6M820.12 803.1 L822.76 803.9 L825.41 804.6 L828.05 805.4 L830.70 806.1 L832.47 806.6M841.30 809.0 L843.95 809.7 L846.60 810.4 L849.26 811.1 L851.91 811.8 L853.68 812.2M862.53 814.5 L865.19 815.1 L867.84 815.8 L870.50 816.4 L873.16 817.1 L874.93 817.5M882.91 819.4 L885.57 820.0 L888.22 820.6 L890.88 821.2 L893.54 821.8 L896.20 822.4M904.18 824.2 L906.84 824.7 L909.50 825.3 L912.16 825.9 L914.82 826.5 L916.59 826.8M925.45 828.7 L928.11 829.2 L930.76 829.8 L933.42 830.3 L936.08 830.9 L937.85 831.2M946.70 833.0 L949.35 833.5 L952.00 834.0 L954.65 834.5 L957.31 835.0 L959.07 835.4M967.90 837.0 L970.55 837.5 L973.19 838.0 L975.84 838.5 L978.48 839.0 L980.24 839.3M989.05 840.9 L991.68 841.4 L994.32 841.9 L996.96 842.4 L999.59 842.8 L1001.35 843.2M1010.11 844.7 L1012.74 845.2 L1015.36 845.7 L1017.99 846.1 L1020.61 846.6 L1022.36 846.9"/>
<polyline fill="none" stroke="#ff0000" stroke-width="2.5" stroke-linejoin="round" points="109.89,694.0 110.11,691.4 110.33,688.9 110.55,686.3 110.76,683.8 110.98,681.2 111.19,678.7 111.40,676.1 111.62,673.6 111.83,671.0 112.04,668.5 112.25,665.9 112.46,663.4 112.67,660.8 112.88,658.3 113.09,655.7 113.29,653.1 113.50,650.6 113.71,648.0 113.91,645.5 114.12,642.9 114.32,640.4 114.53,637.8 114.73,635.3 114.94,632.7 115.14,630.1 115.34,627.6 115.55,625.0 115.75,622.5 115.95,619.9 116.15,617.3 116.35,614.8 116.55,612.2 116.76,609.7 116.96,607.1 117.16,604.6 117.36,602.0 117.56,599.4 117.76,596.9 117.96,594.3 118.16,591.7 118.36,589.2 118.55,586.6 118.75,584.1 118.95,581.5 119.15,578.9 119.35,576.4 119.55,573.8 119.75,571.3 119.95,568.7 120.15,566.1 120.35,563.6 120.55,561.0 120.75,558.5 120.95,555.9 121.15,553.3 121.35,550.8 121.55,548.2 121.75,545.6 121.95,543.1 122.16,540.5 122.36,538.0 122.56,535.4 122.76,532.8 122.96,530.3 123.17,527.7 123.37,525.1 123.57,522.6 123.78,520.0 123.98,517.5 124.19,514.9 124.39,512.3 124.60,509.8 124.81,507.2 125.01,504.7 125.22,502.1 125.43,499.5 125.64,497.0 125.85,494.4 126.06,491.8 126.27,489.3 126.48,486.7 126.69,484.2 126.91,481.6 127.12,479.0 127.34,476.5 127.55,473.9 127.77,471.4 127.98,468.8 128.20,466.2 128.42,463.7 128.64,461.1 128.86,458.6 129.08,456.0 129.30,453.4 129.52,450.9 129.75,448.3 129.97,445.8 130.20,443.2 130.43,440.7 130.65,438.1 130.88,435.5 131.11,433.0 131.34,430.4 131.58,427.9 131.81,425.3 132.04,422.8 132.28,420.2 132.52,417.6 132.75,415.1 132.99,412.5 133.23,410.0 133.48,407.4 133.72,404.9 133.96,402.3 134.21,399.8 134.46,397.2 134.70,394.7 134.95,392.1 135.21,389.6 135.46,387.0 135.71,384.5 135.97,381.9 136.22,379.4 136.48,376.8 136.74,374.3 137.00,371.7 137.27,369.2 137.53,366.6 137.80,364.1 138.07,361.5 138.33,359.0 138.61,356.4 138.88,353.9 139.15,351.3 139.43,348.8 139.71,346.3 139.99,343.7 140.27,341.2 140.55,338.6 140.84,336.1 141.12,333.5 141.41,331.0 141.70,328.5 141.99,325.9 142.29,323.4 142.58,320.8 142.88,318.3 143.18,315.8 143.48,313.2 143.79,310.7 144.09,308.2 144.40,305.6 144.71,303.1 145.02,300.5 145.34,298.0 145.65,295.5 145.97,292.9 146.29,290.4 146.61,287.9 146.94,285.4 147.27,282.8 147.59,280.3 147.93,277.8 148.26,275.2 148.60,272.7 148.93,270.2 149.27,267.7 149.62,265.1 149.96,262.6 150.31,260.1 150.66,257.6 151.01,255.0 151.37,252.5 151.73,250.0 152.09,247.5 152.46,245.0 152.83,242.5 153.21,239.9 153.60,237.4 153.99,234.9 154.39,232.4 154.79,229.9 155.21,227.4 155.63,225.0 156.06,222.5 156.50,220.0 156.95,217.5 157.41,215.0 157.88,212.6 158.36,210.1 158.85,207.7 159.36,205.2 159.87,202.8 160.40,200.4 160.94,197.9 161.50,195.5 162.07,193.1 162.65,190.7 163.25,188.3 163.87,185.9 164.50,183.6 165.15,181.2 165.81,178.8 166.49,176.5 167.19,174.2 167.91,171.8 168.65,169.5 169.40,167.2 170.17,164.9 170.97,162.6 171.78,160.4 172.62,158.1 173.48,155.9 174.36,153.6 175.26,151.4 176.19,149.2 177.14,147.1 178.14,144.9 179.17,142.9 180.25,140.9 181.38,139.0 182.57,137.1 183.81,135.4 185.13,133.8 186.51,132.3 187.97,131.0 189.51,129.8 191.12,128.8 192.79,127.9 194.49,127.3 196.23,126.8 197.97,126.6 199.71,126.6 201.44,126.8 203.16,127.2 204.87,127.8 206.56,128.6 208.23,129.5 209.88,130.6 211.51,131.7 213.10,133.0 214.67,134.4 216.20,135.8 217.69,137.3 219.16,138.8 220.60,140.4 222.00,142.0 223.38,143.7 224.74,145.4 226.07,147.2 227.38,149.0 228.67,150.8 229.93,152.7 231.18,154.5 232.42,156.4 233.64,158.3 234.85,160.3 236.04,162.2 237.22,164.1 238.40,166.1 239.56,168.1 240.71,170.0 241.85,172.0 242.98,174.0 244.10,176.0 245.21,178.0 246.31,180.0 247.40,182.0 248.49,184.0 249.56,186.1 250.63,188.1 251.69,190.1 252.74,192.2 253.79,194.3 254.83,196.3 255.86,198.4 256.88,200.5 257.90,202.5 258.92,204.6 259.92,206.7 260.93,208.8 261.92,210.9 262.92,213.0 263.91,215.1 264.89,217.2 265.87,219.3 266.85,221.5 267.82,223.6 268.80,225.7 269.76,227.8 270.73,230.0 271.70,232.1 272.66,234.2 273.62,236.4 274.58,238.5 275.54,240.6 276.50,242.8 277.46,244.9 278.41,247.1 279.37,249.2 280.33,251.4 281.29,253.5 282.25,255.6 283.22,257.8 284.18,259.9 285.15,262.1 286.11,264.2 287.08,266.4 288.06,268.5 289.03,270.6 290.01,272.8 290.99,274.9 291.97,277.1 292.95,279.2 293.93,281.3 294.92,283.5 295.91,285.6 296.90,287.7 297.89,289.9 298.89,292.0 299.89,294.1 300.89,296.2 301.89,298.4 302.89,300.5 303.90,302.6 304.90,304.7 305.92,306.9 306.93,309.0 307.94,311.1 308.96,313.2 309.98,315.3 311.00,317.5 312.02,319.6 313.05,321.7 314.08,323.8 315.11,325.9 316.14,328.0 317.17,330.1 318.21,332.2 319.25,334.3 320.29,336.4 321.34,338.5 322.38,340.6 323.43,342.7 324.48,344.8 325.54,346.9 326.59,349.0 327.65,351.0 328.71,353.1 329.77,355.2 330.84,357.3 331.90,359.4 332.97,361.4 334.05,363.5 335.12,365.6 336.20,367.6 337.28,369.7 338.36,371.8 339.44,373.8 340.53,375.9 341.62,377.9 342.71,380.0 343.80,382.0 344.90,384.1 346.00,386.1 347.10,388.2 348.20,390.2 349.31,392.2 350.42,394.3 351.53,396.3 352.64,398.3 353.76,400.3 354.88,402.4 356.00,404.4 357.12,406.4 358.25,408.4 359.38,410.4 360.51,412.4 361.64,414.4 362.78,416.4 363.92,418.4 365.06,420.4 366.20,422.4 367.35,424.4 368.50,426.4 369.65,428.3 370.81,430.3 371.96,432.3 373.12,434.3 374.29,436.2 375.45,438.2 376.62,440.1 377.79,442.1 378.96,444.0 380.14,446.0 381.32,447.9 382.50,449.9 383.68,451.8 384.87,453.7 386.06,455.7 387.25,457.6 388.45,459.5 389.64,461.4 390.85,463.3 392.05,465.2 393.25,467.1 394.46,469.0 395.68,470.9 396.89,472.8 398.11,474.7 399.33,476.6 400.55,478.5 401.78,480.3 403.00,482.2 404.24,484.1 405.47,485.9 406.71,487.8 407.95,489.6 409.19,491.5 410.43,493.3 411.68,495.1 412.93,497.0 414.19,498.8 415.45,500.6 416.71,502.4 417.97,504.3 419.24,506.1 420.50,507.9 421.78,509.7 423.05,511.5 424.33,513.2 425.61,515.0 426.89,516.8 428.18,518.6 429.47,520.3 430.76,522.1 432.06,523.9 433.36,525.6 434.66,527.4 435.96,529.1 437.27,530.8 438.58,532.6 439.90,534.3 441.21,536.0 442.53,537.7 443.86,539.4 445.18,541.1 446.51,542.8 447.84,544.5 449.18,546.2 450.52,547.9 451.86,549.6 453.20,551.2 454.55,552.9 455.90,554.6 457.26,556.2 458.61,557.8 459.98,559.5 461.34,561.1 462.71,562.7 464.08,564.4 465.45,566.0 466.83,567.6 468.20,569.2 469.59,570.8 470.97,572.4 472.36,574.0 473.76,575.5 475.15,577.1 476.55,578.7 477.95,580.2 479.36,581.8 480.77,583.3 482.18,584.9 483.59,586.4 485.01,587.9 486.43,589.5 487.86,591.0 489.29,592.5 490.72,594.0 492.16,595.5 493.59,596.9 495.04,598.4 496.48,599.9 497.93,601.4 499.38,602.8 500.84,604.3 502.29,605.7 503.75,607.2 505.22,608.6 506.69,610.0 508.16,611.4 509.63,612.9 511.11,614.3 512.59,615.7 514.07,617.1 515.55,618.4 517.04,619.8 518.53,621.2 520.03,622.6 521.53,623.9 523.03,625.3 524.53,626.6 526.04,628.0 527.55,629.3 529.06,630.6 530.57,632.0 532.09,633.3 533.61,634.6 535.13,635.9 536.66,637.2 538.19,638.5 539.72,639.8 541.25,641.1 542.79,642.3 544.33,643.6 545.87,644.9 547.42,646.1 548.96,647.4 550.51,648.6 552.06,649.9 553.62,651.1 555.18,652.3 556.74,653.5 558.30,654.7 559.86,656.0 561.43,657.2 563.00,658.4 564.57,659.5 566.15,660.7 567.73,661.9 569.30,663.1 570.89,664.2 572.47,665.4 574.06,666.6 575.65,667.7 577.24,668.9 578.83,670.0 580.42,671.1 582.02,672.3 583.62,673.4 585.22,674.5 586.83,675.6 588.43,676.7 590.04,677.8 591.65,678.9 593.27,680.0 594.88,681.1 596.50,682.2 598.11,683.2 599.74,684.3 601.36,685.3 602.98,686.4 604.61,687.5 606.24,688.5 607.87,689.5 609.50,690.6 611.13,691.6 612.77,692.6 614.41,693.6 616.05,694.6 617.69,695.7 619.33,696.7 620.98,697.7 622.62,698.6 624.27,699.6 625.92,700.6 627.58,701.6 629.23,702.6 630.88,703.5 632.54,704.5 634.20,705.4 635.86,706.4 637.52,707.3 639.18,708.3 640.85,709.2 642.52,710.1 644.18,711.1 645.85,712.0 647.52,712.9 649.20,713.8 650.87,714.7 652.54,715.6 654.22,716.5 655.90,717.4 657.58,718.3 659.26,719.1 660.94,720.0 662.62,720.9 664.31,721.8 665.99,722.6 667.68,723.5 669.37,724.3 671.06,725.2 672.75,726.0 674.44,726.8 676.13,727.7 677.83,728.5 679.52,729.3 681.22,730.1 682.91,731.0 684.61,731.8 686.31,732.6 688.01,733.4 689.71,734.2 691.42,735.0 693.12,735.7 694.82,736.5 696.53,737.3 698.24,738.1 699.94,738.8 701.65,739.6 703.36,740.4 705.07,741.1 706.78,741.9 708.49,742.6 710.20,743.4 711.91,744.1 713.63,744.8 715.34,745.6 717.06,746.3 718.77,747.0 720.49,747.7 722.20,748.4 723.92,749.1 725.64,749.8 727.36,750.5 729.08,751.2 730.80,751.9 732.52,752.6 734.24,753.3 735.96,754.0 737.68,754.7 739.40,755.3 741.13,756.0 742.85,756.7 744.57,757.3 746.30,758.0 748.02,758.6 749.75,759.3 751.47,759.9 753.20,760.6 754.92,761.2 756.65,761.8 758.37,762.4 760.10,763.1 761.83,763.7 763.55,764.3 765.28,764.9 767.01,765.5 768.74,766.1 770.46,766.7 772.19,767.3 773.92,767.9 775.65,768.5 777.38,769.1 779.11,769.7 780.84,770.3 782.56,770.8 784.29,771.4 786.02,772.0 787.75,772.5 789.48,773.1 791.22,773.7 792.95,774.2 794.68,774.8 796.41,775.3 798.14,775.9 799.87,776.4 801.60,777.0 803.34,777.5 805.07,778.0 806.80,778.5 808.54,779.1 810.27,779.6 812.00,780.1 813.74,780.6 815.47,781.1 817.21,781.7 818.94,782.2 820.68,782.7 822.41,783.2 824.15,783.7 825.88,784.2 827.62,784.7 829.36,785.1 831.09,785.6 832.83,786.1 834.57,786.6 836.31,787.1 838.05,787.5 839.78,788.0 841.52,788.5 843.26,789.0 845.00,789.4 846.74,789.9 848.48,790.3 850.22,790.8 851.96,791.2 853.70,791.7 855.44,792.1 857.18,792.6 858.93,793.0 860.67,793.5 862.41,793.9 864.15,794.4 865.90,794.8 867.64,795.2 869.38,795.6 871.13,796.1 872.87,796.5 874.62,796.9 876.36,797.3 878.11,797.8 879.85,798.2 881.60,798.6 883.34,799.0 885.09,799.4 886.84,799.8 888.58,800.2 890.33,800.6 892.08,801.0 893.83,801.4 895.58,801.8 897.32,802.2 899.07,802.6 900.82,803.0 902.57,803.4 904.32,803.7 906.07,804.1 907.83,804.5 909.58,804.9 911.33,805.3 913.08,805.6 914.83,806.0 916.59,806.4 918.34,806.8 920.09,807.1 921.85,807.5 923.60,807.9 925.36,808.2 927.11,808.6 928.87,809.0 930.62,809.3 932.38,809.7 934.13,810.0 935.89,810.4 937.65,810.7 939.40,811.1 941.16,811.4 942.92,811.8 944.68,812.1 946.44,812.5 948.20,812.8 949.96,813.2 951.72,813.5 953.48,813.9 955.24,814.2 957.00,814.5 958.76,814.9 960.53,815.2 962.29,815.5 964.05,815.9 965.81,816.2 967.58,816.5 969.34,816.9 971.11,817.2 972.87,817.5 974.64,817.9 976.40,818.2 978.17,818.5 979.94,818.8 981.70,819.1 983.47,819.5 985.24,819.8 987.01,820.1 988.77,820.4 990.54,820.8 992.31,821.1 994.08,821.4 995.85,821.7 997.62,822.0 999.40,822.3 1001.17,822.7 1002.94,823.0 1004.71,823.3 1006.48,823.6 1008.26,823.9 1010.03,824.2 1011.81,824.5 1013.58,824.8 1015.36,825.1 1017.13,825.5 1018.91,825.8 1020.68,826.1 1022.46,826.4 1024.24,826.7 1026.01,827.0 1027.79,827.3"/>
<path fill="none" stroke="#000000" stroke-width="2.5" d="M110.99 648.6 L111.34 644.8 L111.67 641.0 L112.01 637.2 L112.34 633.4 L112.68 629.6 L113.01 625.8 L113.12 624.5M114.64 606.8 L114.96 603.0 L115.28 599.2 L115.60 595.4 L115.92 591.6 L116.24 587.8 L116.56 584.0 L116.66 582.8M118.13 565.1 L118.44 561.3 L118.75 557.5 L119.06 553.7 L119.37 549.9 L119.68 546.1 L119.99 542.3 L120.10 541.0M121.65 522.1 L121.96 518.3 L122.27 514.5 L122.58 510.7 L122.89 506.9 L123.20 503.1 L123.51 499.4M125.08 480.4 L125.40 476.6 L125.72 472.9 L126.04 469.1 L126.36 465.3 L126.68 461.5 L127.00 457.7 L127.11 456.5M128.63 438.8 L128.96 435.0 L129.30 431.2 L129.63 427.5 L129.97 423.7 L130.30 419.9 L130.64 416.1 L130.76 414.8M132.38 397.2 L132.73 393.4 L133.08 389.6 L133.44 385.9 L133.80 382.1 L134.17 378.3 L134.53 374.5 L134.66 373.3M136.53 354.4 L136.92 350.6 L137.31 346.8 L137.70 343.0 L138.09 339.2 L138.49 335.5 L138.89 331.7 L139.02 330.4M140.95 312.8 L141.37 309.0 L141.80 305.2 L142.23 301.4 L142.67 297.7 L143.10 293.9 L143.55 290.1 L143.70 288.8M145.83 271.2 L146.30 267.4 L146.77 263.6 L147.25 259.9 L147.74 256.1 L148.23 252.3 L148.72 248.5 L148.89 247.3M151.56 228.4 L152.13 224.7 L152.73 220.9 L153.34 217.2 L153.97 213.5 L154.62 209.8 L155.29 206.1 L155.52 204.8M159.32 186.6 L160.17 183.0 L161.05 179.4 L161.96 175.8 L162.91 172.3 L163.89 168.7 L164.91 165.2 L165.62 162.9M171.90 144.7 L173.22 141.3 L174.59 138.0 L176.01 134.8 L177.47 131.5 L178.99 128.3 L180.57 125.1 L182.23 122.1 L182.81 121.2M192.31 111.2 L194.79 110.3 L197.41 109.9 L200.09 110.0 L202.77 110.5 L204.53 111.1M213.49 116.8 L215.75 118.9 L217.95 121.2 L220.08 123.6 L222.16 126.0 L224.19 128.5 L226.17 131.1M234.24 142.9 L236.00 145.7 L237.73 148.5 L239.43 151.4 L241.11 154.3 L242.77 157.3 L244.40 160.2 L246.02 163.2 L247.10 165.2M254.98 180.4 L256.52 183.4 L258.06 186.5 L259.59 189.6 L261.11 192.7 L262.62 195.8 L264.13 198.9 L265.62 202.1 L267.12 205.2 L268.11 207.3M276.47 225.2 L277.93 228.4 L279.40 231.6 L280.86 234.7 L282.32 237.9 L283.78 241.1 L285.24 244.3 L286.70 247.5 L288.17 250.6 L289.14 252.8M297.50 270.7 L298.99 273.9 L300.48 277.0 L301.97 280.2 L303.47 283.3 L304.97 286.4 L306.47 289.6 L307.98 292.7 L309.50 295.8 L310.00 296.9M318.66 314.5 L320.20 317.6 L321.75 320.7 L323.30 323.8 L324.86 326.9 L326.42 330.0 L327.98 333.0 L329.55 336.1 L331.13 339.2M339.60 355.4 L341.21 358.4 L342.82 361.4 L344.43 364.4 L346.05 367.5 L347.68 370.5 L349.31 373.5 L350.95 376.5 L352.59 379.4M360.32 393.3 L361.99 396.2 L363.67 399.2 L365.35 402.1 L367.04 405.0 L368.74 408.0 L370.44 410.9 L372.14 413.8 L373.28 415.7M381.93 430.1 L383.68 433.0 L385.43 435.8 L387.19 438.7 L388.95 441.5 L390.73 444.4 L392.51 447.2 L394.29 450.0M402.71 463.0 L404.53 465.8 L406.36 468.6 L408.20 471.3 L410.05 474.0 L411.91 476.8 L413.78 479.5 L415.68 482.1M423.58 492.1 L425.63 494.5 L427.70 496.8 L429.79 499.0 L431.88 501.3 L433.96 503.6 L436.02 506.0 L436.70 506.7M444.78 516.4 L446.77 518.8 L448.76 521.3 L450.73 523.8 L452.70 526.3 L454.67 528.9 L456.63 531.4 L457.94 533.1M465.82 543.2 L467.80 545.7 L469.80 548.2 L471.80 550.7 L473.81 553.2 L475.84 555.7 L477.88 558.1 L478.57 558.9M486.94 568.3 L489.08 570.6 L491.22 572.9 L493.37 575.1 L495.52 577.4 L497.69 579.6 L499.85 581.8M507.86 589.7 L510.06 591.9 L512.26 594.0 L514.47 596.1 L516.69 598.1 L518.91 600.2 L521.14 602.3M529.35 609.6 L531.61 611.6 L533.87 613.6 L536.14 615.5 L538.41 617.5 L540.69 619.4 L542.21 620.7M550.62 627.5 L552.92 629.4 L555.24 631.2 L557.55 633.0 L559.87 634.8 L562.20 636.6 L562.98 637.2M571.55 643.6 L573.91 645.3 L576.26 647.0 L578.62 648.7 L580.99 650.4 L583.36 652.0 L584.15 652.6M592.08 658.0 L594.47 659.6 L596.87 661.2 L599.27 662.7 L601.67 664.3 L604.08 665.9 L604.88 666.4M613.74 671.9 L616.17 673.4 L618.60 674.9 L621.04 676.3 L623.47 677.8 L625.92 679.2M634.90 684.4 L637.36 685.8 L639.82 687.1 L642.29 688.5 L644.75 689.8 L647.23 691.2M655.49 695.5 L657.97 696.8 L660.46 698.1 L662.95 699.4 L665.44 700.6 L667.94 701.9M677.12 706.3 L679.63 707.5 L682.14 708.7 L684.65 709.9 L687.17 711.1 L689.69 712.2M698.10 716.0 L700.62 717.1 L703.16 718.2 L705.69 719.3 L708.22 720.4 L710.76 721.5M719.22 725.0 L721.77 726.0 L724.31 727.0 L726.86 728.1 L729.41 729.1 L731.11 729.7M739.62 733.0 L742.18 734.0 L744.73 734.9 L747.29 735.9 L749.85 736.8 L752.41 737.8M760.95 740.8 L763.52 741.7 L766.08 742.6 L768.65 743.5 L771.22 744.4 L773.78 745.2M782.35 748.1 L784.92 748.9 L787.49 749.8 L790.07 750.6 L792.64 751.4 L794.36 751.9M802.95 754.6 L805.53 755.4 L808.11 756.1 L810.69 756.9 L813.27 757.7 L815.85 758.4M824.46 760.9 L827.04 761.6 L829.63 762.4 L832.21 763.1 L834.80 763.8 L836.53 764.3M845.16 766.6 L847.75 767.3 L850.34 767.9 L852.93 768.6 L855.52 769.3 L858.12 769.9M866.76 772.1 L869.36 772.7 L871.96 773.4 L874.55 774.0 L877.15 774.6 L878.88 775.0M887.55 777.1 L890.15 777.7 L892.75 778.2 L895.35 778.8 L897.96 779.4 L899.69 779.8M908.37 781.7 L910.98 782.3 L913.58 782.8 L916.19 783.4 L918.80 783.9 L921.40 784.5M929.23 786.1 L931.84 786.6 L934.45 787.2 L937.06 787.7 L939.67 788.2 L942.28 788.7M950.98 790.4 L953.60 790.9 L956.21 791.4 L958.82 791.9 L961.44 792.4 L963.18 792.8M971.90 794.4 L974.51 794.9 L977.13 795.3 L979.75 795.8 L982.36 796.3 L984.11 796.6M992.84 798.2 L995.45 798.6 L998.07 799.1 L1000.69 799.5 L1003.31 800.0 L1005.06 800.3M1013.79 801.8 L1016.41 802.3 L1019.03 802.7 L1021.66 803.1 L1024.28 803.6 L1026.03 803.9"/>
<polyline fill="none" stroke="#000000" stroke-width="2.5" stroke-linejoin="round" points="109.95,633.9 110.19,631.4 110.42,628.9 110.65,626.4 110.88,623.9 111.11,621.4 111.33,618.9 111.56,616.3 111.79,613.8 112.01,611.3 112.23,608.8 112.45,606.3 112.67,603.7 112.89,601.2 113.11,598.7 113.33,596.2 113.54,593.7 113.76,591.1 113.97,588.6 114.19,586.1 114.40,583.5 114.61,581.0 114.82,578.5 115.04,576.0 115.24,573.4 115.45,570.9 115.66,568.4 115.87,565.8 116.08,563.3 116.28,560.8 116.49,558.2 116.69,555.7 116.90,553.2 117.10,550.6 117.31,548.1 117.51,545.5 117.71,543.0 117.92,540.5 118.12,537.9 118.32,535.4 118.52,532.9 118.72,530.3 118.92,527.8 119.12,525.2 119.32,522.7 119.52,520.1 119.72,517.6 119.92,515.1 120.12,512.5 120.32,510.0 120.52,507.4 120.72,504.9 120.92,502.3 121.12,499.8 121.32,497.3 121.52,494.7 121.72,492.2 121.92,489.6 122.11,487.1 122.31,484.5 122.51,482.0 122.71,479.4 122.91,476.9 123.11,474.3 123.31,471.8 123.52,469.2 123.72,466.7 123.92,464.2 124.12,461.6 124.32,459.1 124.53,456.5 124.73,454.0 124.93,451.4 125.14,448.9 125.34,446.3 125.55,443.8 125.75,441.2 125.96,438.7 126.17,436.2 126.37,433.6 126.58,431.1 126.79,428.5 127.00,426.0 127.21,423.4 127.42,420.9 127.63,418.3 127.85,415.8 128.06,413.3 128.27,410.7 128.49,408.2 128.71,405.6 128.92,403.1 129.14,400.5 129.36,398.0 129.58,395.5 129.80,392.9 130.02,390.4 130.25,387.8 130.47,385.3 130.70,382.8 130.92,380.2 131.15,377.7 131.38,375.2 131.61,372.6 131.84,370.1 132.08,367.5 132.31,365.0 132.55,362.5 132.78,359.9 133.02,357.4 133.26,354.9 133.50,352.4 133.75,349.8 133.99,347.3 134.24,344.8 134.48,342.2 134.73,339.7 134.98,337.2 135.24,334.7 135.49,332.1 135.75,329.6 136.00,327.1 136.26,324.6 136.52,322.0 136.78,319.5 137.05,317.0 137.31,314.5 137.58,312.0 137.85,309.4 138.12,306.9 138.40,304.4 138.67,301.9 138.95,299.4 139.23,296.9 139.51,294.4 139.79,291.9 140.08,289.4 140.37,286.8 140.66,284.3 140.95,281.8 141.24,279.3 141.54,276.8 141.84,274.3 142.14,271.8 142.44,269.3 142.75,266.8 143.06,264.3 143.37,261.8 143.68,259.4 143.99,256.9 144.31,254.4 144.63,251.9 144.95,249.4 145.28,246.9 145.61,244.4 145.94,241.9 146.28,239.5 146.62,237.0 146.96,234.5 147.31,232.0 147.66,229.5 148.02,227.1 148.38,224.6 148.74,222.1 149.11,219.6 149.49,217.1 149.87,214.7 150.25,212.2 150.64,209.7 151.04,207.3 151.44,204.8 151.85,202.3 152.26,199.9 152.68,197.4 153.11,194.9 153.54,192.5 153.98,190.0 154.43,187.5 154.88,185.1 155.34,182.6 155.81,180.1 156.28,177.7 156.77,175.2 157.26,172.7 157.76,170.3 158.26,167.8 158.78,165.4 159.30,162.9 159.83,160.4 160.37,158.0 160.92,155.5 161.48,153.1 162.04,150.6 162.62,148.2 163.21,145.7 163.80,143.2 164.41,140.8 165.02,138.3 165.65,135.9 166.28,133.4 166.93,131.0 167.58,128.5 168.25,126.1 168.94,123.6 169.64,121.2 170.36,118.8 171.10,116.4 171.87,114.0 172.67,111.7 173.49,109.4 174.35,107.2 175.25,105.0 176.19,102.8 177.16,100.7 178.18,98.7 179.25,96.8 180.37,94.9 181.54,93.1 182.76,91.4 184.04,89.8 185.39,88.3 186.79,86.8 188.26,85.5 189.80,84.3 191.39,83.3 193.04,82.4 194.72,81.7 196.43,81.2 198.16,80.9 199.89,80.9 201.62,81.1 203.34,81.5 205.05,82.0 206.74,82.8 208.41,83.7 210.05,84.7 211.65,85.9 213.22,87.2 214.74,88.7 216.22,90.1 217.64,91.7 219.03,93.4 220.38,95.1 221.71,96.8 223.01,98.6 224.29,100.4 225.55,102.2 226.81,104.0 228.06,105.9 229.30,107.7 230.53,109.6 231.75,111.4 232.96,113.3 234.16,115.2 235.35,117.1 236.54,119.0 237.71,120.9 238.88,122.8 240.04,124.7 241.19,126.7 242.34,128.6 243.48,130.5 244.60,132.5 245.73,134.4 246.84,136.4 247.95,138.4 249.05,140.4 250.15,142.3 251.23,144.3 252.32,146.3 253.39,148.3 254.46,150.3 255.53,152.3 256.58,154.4 257.64,156.4 258.69,158.4 259.73,160.5 260.77,162.5 261.80,164.5 262.83,166.6 263.85,168.6 264.87,170.7 265.89,172.8 266.90,174.8 267.91,176.9 268.91,179.0 269.91,181.0 270.91,183.1 271.90,185.2 272.90,187.3 273.88,189.4 274.87,191.5 275.85,193.6 276.84,195.7 277.81,197.8 278.79,199.9 279.77,202.0 280.74,204.1 281.71,206.2 282.68,208.3 283.65,210.4 284.62,212.5 285.59,214.6 286.56,216.8 287.53,218.9 288.49,221.0 289.46,223.1 290.42,225.2 291.39,227.4 292.36,229.5 293.33,231.6 294.29,233.7 295.26,235.8 296.23,237.9 297.20,240.1 298.18,242.2 299.15,244.3 300.13,246.4 301.10,248.5 302.08,250.7 303.06,252.8 304.05,254.9 305.03,257.0 306.02,259.1 307.01,261.2 308.01,263.3 309.00,265.4 310.00,267.5 311.00,269.6 312.00,271.7 313.01,273.8 314.02,275.9 315.03,278.0 316.04,280.1 317.06,282.2 318.07,284.3 319.09,286.4 320.12,288.4 321.14,290.5 322.17,292.6 323.20,294.7 324.23,296.8 325.27,298.8 326.30,300.9 327.34,303.0 328.39,305.0 329.43,307.1 330.48,309.2 331.53,311.2 332.58,313.3 333.64,315.3 334.69,317.4 335.75,319.4 336.82,321.5 337.88,323.5 338.95,325.6 340.02,327.6 341.09,329.6 342.17,331.7 343.25,333.7 344.33,335.7 345.41,337.8 346.50,339.8 347.59,341.8 348.68,343.8 349.77,345.8 350.87,347.9 351.97,349.9 353.07,351.9 354.17,353.9 355.28,355.9 356.39,357.9 357.50,359.9 358.61,361.9 359.73,363.8 360.85,365.8 361.98,367.8 363.10,369.8 364.23,371.8 365.36,373.7 366.49,375.7 367.63,377.7 368.77,379.6 369.91,381.6 371.05,383.5 372.20,385.5 373.35,387.4 374.50,389.4 375.66,391.3 376.82,393.2 377.98,395.2 379.14,397.1 380.31,399.0 381.48,400.9 382.65,402.9 383.82,404.8 385.00,406.7 386.18,408.6 387.37,410.5 388.55,412.4 389.74,414.3 390.93,416.2 392.13,418.0 393.32,419.9 394.52,421.8 395.73,423.7 396.93,425.5 398.14,427.4 399.35,429.3 400.57,431.1 401.78,433.0 403.00,434.8 404.23,436.7 405.45,438.5 406.68,440.3 407.91,442.2 409.15,444.0 410.38,445.8 411.62,447.6 412.87,449.4 414.11,451.2 415.36,453.0 416.61,454.8 417.87,456.6 419.12,458.4 420.39,460.2 421.65,462.0 422.92,463.7 424.18,465.5 425.46,467.3 426.73,469.0 428.01,470.8 429.29,472.5 430.58,474.2 431.86,476.0 433.15,477.7 434.45,479.4 435.74,481.2 437.04,482.9 438.35,484.6 439.65,486.3 440.96,488.0 442.27,489.7 443.59,491.4 444.90,493.1 446.22,494.7 447.55,496.4 448.87,498.1 450.20,499.7 451.54,501.4 452.87,503.0 454.21,504.7 455.55,506.3 456.90,507.9 458.25,509.6 459.60,511.2 460.95,512.8 462.31,514.4 463.67,516.0 465.04,517.6 466.40,519.2 467.77,520.8 469.15,522.4 470.52,524.0 471.90,525.5 473.29,527.1 474.67,528.6 476.06,530.2 477.45,531.7 478.85,533.3 480.25,534.8 481.65,536.3 483.06,537.8 484.46,539.3 485.88,540.8 487.29,542.3 488.71,543.8 490.13,545.3 491.55,546.8 492.98,548.3 494.41,549.7 495.85,551.2 497.28,552.6 498.72,554.1 500.17,555.5 501.61,557.0 503.06,558.4 504.52,559.8 505.97,561.2 507.43,562.6 508.89,564.0 510.36,565.4 511.83,566.8 513.30,568.2 514.77,569.6 516.25,570.9 517.73,572.3 519.21,573.7 520.69,575.0 522.18,576.4 523.67,577.7 525.17,579.0 526.66,580.4 528.16,581.7 529.66,583.0 531.17,584.3 532.68,585.6 534.19,586.9 535.70,588.2 537.21,589.5 538.73,590.8 540.25,592.0 541.78,593.3 543.30,594.5 544.83,595.8 546.36,597.0 547.90,598.3 549.43,599.5 550.97,600.8 552.51,602.0 554.06,603.2 555.60,604.4 557.15,605.6 558.70,606.8 560.26,608.0 561.81,609.2 563.37,610.4 564.93,611.6 566.50,612.7 568.06,613.9 569.63,615.1 571.20,616.2 572.77,617.4 574.35,618.5 575.92,619.6 577.50,620.8 579.08,621.9 580.66,623.0 582.25,624.1 583.84,625.2 585.43,626.3 587.02,627.4 588.61,628.5 590.21,629.6 591.81,630.7 593.41,631.8 595.01,632.9 596.61,633.9 598.22,635.0 599.83,636.0 601.44,637.1 603.05,638.1 604.66,639.2 606.28,640.2 607.89,641.2 609.51,642.2 611.14,643.3 612.76,644.3 614.38,645.3 616.01,646.3 617.64,647.3 619.27,648.3 620.90,649.2 622.53,650.2 624.17,651.2 625.81,652.2 627.44,653.1 629.08,654.1 630.73,655.0 632.37,656.0 634.01,656.9 635.66,657.9 637.31,658.8 638.96,659.7 640.61,660.7 642.26,661.6 643.92,662.5 645.57,663.4 647.23,664.3 648.89,665.2 650.55,666.1 652.21,667.0 653.87,667.9 655.53,668.7 657.20,669.6 658.87,670.5 660.53,671.4 662.20,672.2 663.87,673.1 665.55,673.9 667.22,674.8 668.89,675.6 670.57,676.4 672.24,677.3 673.92,678.1 675.60,678.9 677.28,679.7 678.96,680.5 680.64,681.3 682.33,682.1 684.01,682.9 685.70,683.7 687.38,684.5 689.07,685.3 690.76,686.1 692.45,686.9 694.14,687.6 695.83,688.4 697.52,689.2 699.21,689.9 700.91,690.7 702.60,691.4 704.30,692.2 705.99,692.9 707.69,693.6 709.39,694.4 711.09,695.1 712.79,695.8 714.49,696.5 716.19,697.2 717.89,697.9 719.59,698.6 721.29,699.3 723.00,700.0 724.70,700.7 726.41,701.4 728.11,702.1 729.82,702.8 731.52,703.5 733.23,704.1 734.94,704.8 736.65,705.5 738.35,706.1 740.06,706.8 741.77,707.4 743.48,708.1 745.19,708.7 746.90,709.3 748.61,710.0 750.32,710.6 752.04,711.2 753.75,711.8 755.46,712.5 757.17,713.1 758.89,713.7 760.60,714.3 762.31,714.9 764.03,715.5 765.74,716.1 767.45,716.7 769.17,717.2 770.88,717.8 772.60,718.4 774.31,719.0 776.03,719.6 777.74,720.1 779.46,720.7 781.17,721.2 782.89,721.8 784.61,722.3 786.32,722.9 788.04,723.4 789.76,724.0 791.48,724.5 793.19,725.1 794.91,725.6 796.63,726.1 798.35,726.6 800.07,727.2 801.79,727.7 803.51,728.2 805.23,728.7 806.95,729.2 808.67,729.7 810.39,730.2 812.11,730.7 813.83,731.2 815.55,731.7 817.27,732.2 818.99,732.7 820.72,733.2 822.44,733.6 824.16,734.1 825.88,734.6 827.61,735.1 829.33,735.5 831.05,736.0 832.78,736.5 834.50,736.9 836.23,737.4 837.95,737.8 839.68,738.3 841.40,738.7 843.13,739.2 844.85,739.6 846.58,740.1 848.31,740.5 850.03,741.0 851.76,741.4 853.49,741.8 855.22,742.2 856.94,742.7 858.67,743.1 860.40,743.5 862.13,743.9 863.86,744.4 865.59,744.8 867.32,745.2 869.05,745.6 870.78,746.0 872.51,746.4 874.24,746.8 875.97,747.2 877.70,747.6 879.43,748.0 881.17,748.4 882.90,748.8 884.63,749.2 886.37,749.6 888.10,750.0 889.83,750.4 891.57,750.7 893.30,751.1 895.03,751.5 896.77,751.9 898.50,752.3 900.24,752.6 901.98,753.0 903.71,753.4 905.45,753.7 907.18,754.1 908.92,754.5 910.66,754.8 912.40,755.2 914.13,755.6 915.87,755.9 917.61,756.3 919.35,756.6 921.09,757.0 922.83,757.4 924.57,757.7 926.31,758.1 928.05,758.4 929.79,758.8 931.53,759.1 933.27,759.5 935.01,759.8 936.76,760.1 938.50,760.5 940.24,760.8 941.98,761.2 943.73,761.5 945.47,761.8 947.22,762.2 948.96,762.5 950.70,762.9 952.45,763.2 954.19,763.5 955.94,763.9 957.69,764.2 959.43,764.5 961.18,764.8 962.93,765.2 964.67,765.5 966.42,765.8 968.17,766.2 969.92,766.5 971.67,766.8 973.41,767.1 975.16,767.5 976.91,767.8 978.66,768.1 980.41,768.4 982.16,768.8 983.92,769.1 985.67,769.4 987.42,769.7 989.17,770.0 990.92,770.4 992.68,770.7 994.43,771.0 996.18,771.3 997.94,771.6 999.69,772.0 1001.44,772.3 1003.20,772.6 1004.95,772.9 1006.71,773.2 1008.47,773.5 1010.22,773.9 1011.98,774.2 1013.74,774.5 1015.49,774.8 1017.25,775.1 1019.01,775.5 1020.77,775.8 1022.53,776.1 1024.28,776.4 1026.04,776.7 1027.80,777.0"/>
</g></g>
<text font-family="'Liberation Sans', sans-serif" font-weight="bold" font-size="34.6" transform="translate(123.5,968.6) scale(1.61,1)">1</text>
<text font-family="'Liberation Sans', sans-serif" font-weight="bold" font-size="34.6" text-anchor="end" transform="translate(149.6,863.8) scale(1.32,1)">2</text>
<text font-family="'Liberation Sans', sans-serif" font-weight="bold" font-size="34.6" text-anchor="end" transform="translate(149.6,760.2) scale(1.32,1)">3</text>
<text font-family="'Liberation Sans', sans-serif" font-weight="bold" font-size="34.6" text-anchor="end" transform="translate(149.6,655.0) scale(1.32,1)">4</text>
<text font-family="'Liberation Sans', sans-serif" font-weight="bold" font-size="34.6" text-anchor="end" transform="translate(149.6,550.1) scale(1.32,1)">5</text>
<text font-family="'Liberation Sans', sans-serif" font-weight="bold" font-size="34.6" text-anchor="end" transform="translate(149.6,445.4) scale(1.32,1)">6</text>
<text font-family="'Liberation Sans', sans-serif" font-weight="bold" font-size="34.6" text-anchor="end" transform="translate(149.6,340.9) scale(1.32,1)">7</text>
<text font-family="'Liberation Sans', sans-serif" font-weight="bold" font-size="34.6" text-anchor="end" transform="translate(149.6,235.5) scale(1.32,1)">8</text>
<text font-family="'Liberation Sans', sans-serif" font-weight="bold" font-size="34.6" text-anchor="end" transform="translate(149.6,131.2) scale(1.32,1)">9</text>
<text font-family="'Liberation Sans', sans-serif" font-weight="bold" font-size="34.6" text-anchor="end" transform="translate(149.6,26.8) scale(1.32,1)">10</text>
<text font-family="'Liberation Sans', sans-serif" font-weight="bold" font-size="34.6" text-anchor="middle" transform="translate(159.0,994.3) scale(1.32,1)">0</text>
<text font-family="'Liberation Sans', sans-serif" font-weight="bold" font-size="34.6" text-anchor="middle" transform="translate(425.5,994.3) scale(1.32,1)">0.2</text>
<text font-family="'Liberation Sans', sans-serif" font-weight="bold" font-size="34.6" text-anchor="middle" transform="translate(692.0,994.3) scale(1.32,1)">0.4</text>
<text font-family="'Liberation Sans', sans-serif" font-weight="bold" font-size="34.6" text-anchor="middle" transform="translate(958.5,994.3) scale(1.32,1)">0.6</text>
<text font-family="'Liberation Sans', sans-serif" font-weight="bold" font-size="34.6" text-anchor="middle" transform="translate(1225.0,994.3) scale(1.32,1)">0.8</text>
<text font-family="'Liberation Sans', sans-serif" font-weight="bold" font-size="34.6" transform="translate(1476.6,994.3) scale(1.6,1)">1</text>

<!-- legend -->
<path d="M990.4 104H1005.4M1019.5 104H1048.7M1062.5 104H1087.7M1103 104H1122.5" stroke="#000" stroke-width="3" fill="none"/>
<line x1="1003" y1="147.3" x2="1133" y2="147.3" stroke="#000" stroke-width="3"/>
<text font-family="'Liberation Sans', sans-serif" font-weight="bold" font-size="30.6" transform="translate(1159.3,119.1) scale(1.35,1)">Yamada Ota</text>
<text font-family="'Liberation Sans', sans-serif" font-weight="bold" font-size="30.6" transform="translate(1161.4,154.2) scale(1.35,1)">Xue</text>
<!-- annotation -->
<text font-family="'Liberation Serif', 'DejaVu Serif', serif" font-style="italic" font-size="26.1" transform="translate(598.6,262.3) scale(1.78,1)">λ</text>
<text font-family="'Liberation Serif', serif" font-size="25.3" transform="translate(623.2,262.4) scale(1.275,1)">*</text>
<rect x="646.3" y="259.8" width="2.2" height="1.8" fill="#444"/>
<text font-family="'Liberation Sans', sans-serif" font-weight="bold" font-size="31" transform="translate(653.4,265.2) scale(1.318,1)">= 0.5, 1.0, 1.5, 2.0</text>
<!-- arrow -->
<g transform="scale(1.4,1)"><line x1="604.29" y1="469.4" x2="446.43" y2="637.5" stroke="#000" stroke-width="3"/></g>
<path d="M608.7 650 L622.4 630 L631 637 L639.5 641.5 Z" fill="#000"/>
<!-- axis labels -->
<text font-family="'Liberation Serif', 'DejaVu Serif', serif" font-weight="bold" font-size="38" text-anchor="middle" transform="translate(819.5,1034.3) scale(1.31,1)">η</text>
<text font-family="'Liberation Sans', sans-serif" font-weight="bold" font-size="40.5" transform="translate(44.7,513.5) rotate(-90) scale(1,1.49)">N</text>
<text font-family="'Liberation Sans', sans-serif" font-weight="bold" font-size="34" transform="translate(73.3,485) rotate(-90) scale(1,1.385)">s</text>

<rect x="100.2" y="19.8" width="9.27" height="7.4" fill="#fff"/><rect x="115.80" y="19.8" width="8.7" height="7.4" fill="#fff"/>
<rect x="125.2" y="961.7" width="11.31" height="7.4" fill="#fff"/><rect x="144.22" y="961.7" width="10.6" height="7.4" fill="#fff"/>
<rect x="1478.3" y="987.4" width="11.24" height="7.4" fill="#fff"/><rect x="1497.19" y="987.4" width="10.5" height="7.4" fill="#fff"/>
<rect x="769.4" y="259.0" width="8.29" height="6.7" fill="#fff"/><rect x="783.33" y="259.0" width="7.8" height="6.7" fill="#fff"/>
<rect x="848.9" y="259.0" width="8.29" height="6.7" fill="#fff"/><rect x="862.84" y="259.0" width="7.8" height="6.7" fill="#fff"/>
</svg>
</body></html>
